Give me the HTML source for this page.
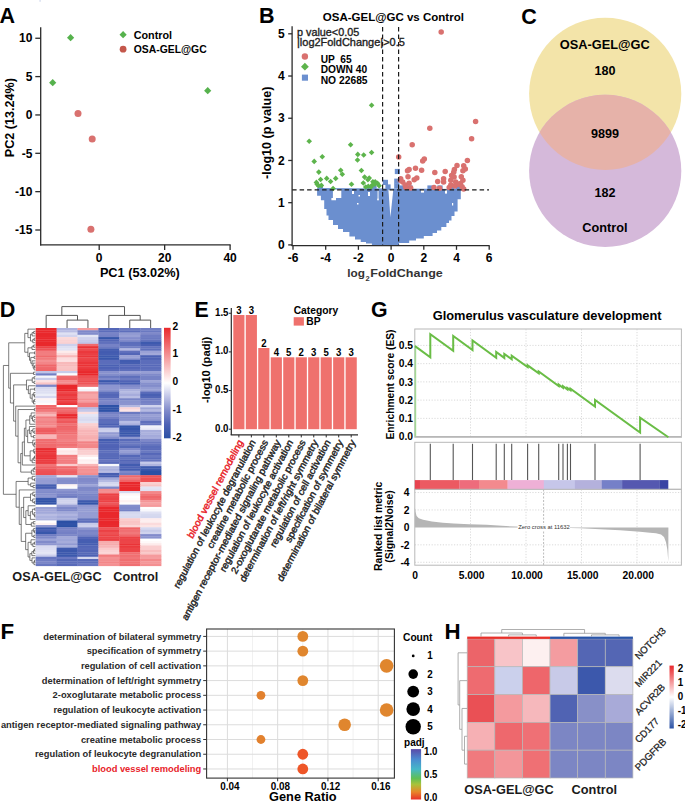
<!DOCTYPE html>
<html><head><meta charset="utf-8"><style>
html,body{margin:0;padding:0;background:#fff;width:685px;height:802px;overflow:hidden}
svg{display:block;font-family:"Liberation Sans", sans-serif}
</style></head><body>
<svg width="685" height="802" viewBox="0 0 685 802">
<rect width="685" height="802" fill="#fff"/>
<text x="-0.50" y="22.80" font-size="21.5" font-weight="bold" text-anchor="start" fill="#000">A</text>
<rect x="39.30" y="0.00" width="1.60" height="1.80" fill="#dde3f2"/>
<line x1="40.70" y1="27.20" x2="40.70" y2="245.40" stroke="#2b2b2b" stroke-width="1.3"/>
<line x1="40.05" y1="244.80" x2="230.60" y2="244.80" stroke="#2b2b2b" stroke-width="1.3"/>
<line x1="35.30" y1="38.25" x2="40.70" y2="38.25" stroke="#2b2b2b" stroke-width="1.3"/>
<text x="32.40" y="42.45" font-size="12" font-weight="bold" text-anchor="end" fill="#000">10</text>
<line x1="35.30" y1="76.60" x2="40.70" y2="76.60" stroke="#2b2b2b" stroke-width="1.3"/>
<text x="32.40" y="80.80" font-size="12" font-weight="bold" text-anchor="end" fill="#000">5</text>
<line x1="35.30" y1="114.95" x2="40.70" y2="114.95" stroke="#2b2b2b" stroke-width="1.3"/>
<text x="32.40" y="119.15" font-size="12" font-weight="bold" text-anchor="end" fill="#000">0</text>
<line x1="35.30" y1="153.30" x2="40.70" y2="153.30" stroke="#2b2b2b" stroke-width="1.3"/>
<text x="32.40" y="157.50" font-size="12" font-weight="bold" text-anchor="end" fill="#000">-5</text>
<line x1="35.30" y1="191.65" x2="40.70" y2="191.65" stroke="#2b2b2b" stroke-width="1.3"/>
<text x="32.40" y="195.85" font-size="12" font-weight="bold" text-anchor="end" fill="#000">-10</text>
<line x1="35.30" y1="230.00" x2="40.70" y2="230.00" stroke="#2b2b2b" stroke-width="1.3"/>
<text x="32.40" y="234.20" font-size="12" font-weight="bold" text-anchor="end" fill="#000">-15</text>
<line x1="99.20" y1="244.80" x2="99.20" y2="250.00" stroke="#2b2b2b" stroke-width="1.3"/>
<text x="99.20" y="261.90" font-size="12" font-weight="bold" text-anchor="middle" fill="#000">0</text>
<line x1="164.65" y1="244.80" x2="164.65" y2="250.00" stroke="#2b2b2b" stroke-width="1.3"/>
<text x="164.65" y="261.90" font-size="12" font-weight="bold" text-anchor="middle" fill="#000">20</text>
<line x1="230.10" y1="244.80" x2="230.10" y2="250.00" stroke="#2b2b2b" stroke-width="1.3"/>
<text x="230.10" y="261.90" font-size="12" font-weight="bold" text-anchor="middle" fill="#000">40</text>
<text x="139.85" y="277.20" font-size="12.6" font-weight="bold" text-anchor="middle" fill="#000" textLength="79.90" lengthAdjust="spacingAndGlyphs">PC1 (53.02%)</text>
<text x="13.70" y="117.70" font-size="12.6" font-weight="bold" text-anchor="middle" fill="#000" transform="rotate(-90 13.70 117.70)" textLength="79.10" lengthAdjust="spacingAndGlyphs">PC2 (13.24%)</text>
<path d="M70.60 34.10L74.20 37.70L70.60 41.30L67.00 37.70Z" fill="#56b24d"/>
<path d="M52.70 79.10L56.30 82.70L52.70 86.30L49.10 82.70Z" fill="#56b24d"/>
<path d="M207.70 87.10L211.30 90.70L207.70 94.30L204.10 90.70Z" fill="#56b24d"/>
<circle cx="78.00" cy="113.50" r="3.50" fill="#d9716f"/>
<circle cx="92.20" cy="138.90" r="3.50" fill="#d9716f"/>
<circle cx="90.90" cy="229.20" r="3.50" fill="#d9716f"/>
<path d="M123.10 31.10L126.70 34.70L123.10 38.30L119.50 34.70Z" fill="#56b24d"/>
<circle cx="123.10" cy="49.20" r="3.40" fill="#c4574b"/>
<text x="133.70" y="38.80" font-size="10.8" font-weight="bold" text-anchor="start" fill="#000">Control</text>
<text x="133.70" y="52.70" font-size="10.8" font-weight="bold" text-anchor="start" fill="#000" textLength="73.00" lengthAdjust="spacingAndGlyphs">OSA-GEL@GC</text>
<text x="258.90" y="22.80" font-size="21.5" font-weight="bold" text-anchor="start" fill="#000">B</text>
<text x="322.80" y="21.30" font-size="11.5" font-weight="bold" text-anchor="start" fill="#000" textLength="141.10" lengthAdjust="spacingAndGlyphs">OSA-GEL@GC vs Control</text>
<path d="M317.1 188.0 L317.1 195.7 L320.9 195.7 L320.9 200.3 L324.2 200.3 L324.2 209.0 L326.5 209.0 L326.5 215.5 L328.5 215.5 L328.5 220.0 L333.0 220.0 L333.0 225.0 L338.0 225.0 L338.0 229.0 L343.0 229.0 L343.0 232.0 L349.4 232.0 L349.4 236.5 L355.0 236.5 L355.0 239.6 L360.7 239.6 L360.7 242.0 L366.0 242.0 L366.0 243.6 L371.9 243.6 L371.9 245.4 L399.0 245.4 L399.0 243.0 L409.2 243.0 L409.2 240.5 L416.0 240.5 L416.0 238.5 L423.8 238.5 L423.8 236.0 L432.6 236.0 L432.6 233.0 L437.0 233.0 L437.0 230.5 L441.3 230.5 L441.3 227.0 L446.4 227.0 L446.4 223.0 L449.0 223.0 L449.0 220.4 L451.5 220.4 L451.5 216.0 L454.5 216.0 L454.5 211.6 L457.6 211.6 L457.6 199.2 L460.8 199.2 L460.8 189.0 Z" fill="#6b8fcf" stroke="none" stroke-width="1"/>
<path d="M388.4 189.6 L393.3 189.6 L390.4 217.2 Z" fill="#fff" stroke="none" stroke-width="1"/>
<path d="M332.9 189.6 L341.3 189.6 L341.3 198 L336 198 L336 200.3 L331.4 200.3 L331.4 198 L332.9 198 Z" fill="#fff" stroke="none" stroke-width="1"/>
<rect x="377.60" y="190.50" width="0.90" height="8.50" fill="#fff"/>
<circle cx="378.00" cy="199.50" r="0.90" fill="#fff"/>
<rect x="352.00" y="191.00" width="2.00" height="3.00" fill="#fff"/>
<rect x="368.00" y="192.00" width="2.00" height="4.00" fill="#fff"/>
<rect x="421.00" y="189.60" width="3.00" height="3.00" fill="#fff"/>
<rect x="445.00" y="189.60" width="2.00" height="4.00" fill="#fff"/>
<rect x="357.00" y="203.00" width="1.50" height="1.50" fill="#fff"/>
<rect x="358.50" y="195.00" width="1.50" height="1.50" fill="#fff"/>
<rect x="452.00" y="203.00" width="1.20" height="2.50" fill="#fff"/>
<rect x="382.80" y="179.80" width="5.20" height="5.20" fill="#6b8fcf"/>
<rect x="394.20" y="178.60" width="5.20" height="5.20" fill="#6b8fcf"/>
<rect x="394.20" y="183.40" width="5.20" height="5.20" fill="#6b8fcf"/>
<rect x="394.80" y="168.90" width="5.20" height="5.20" fill="#6b8fcf"/>
<rect x="317.80" y="185.20" width="5.20" height="5.20" fill="#6b8fcf"/>
<rect x="365.40" y="185.40" width="5.20" height="5.20" fill="#6b8fcf"/>
<rect x="371.40" y="185.40" width="5.20" height="5.20" fill="#6b8fcf"/>
<rect x="385.40" y="184.40" width="5.20" height="5.20" fill="#6b8fcf"/>
<rect x="399.40" y="185.40" width="5.20" height="5.20" fill="#6b8fcf"/>
<rect x="407.40" y="185.40" width="5.20" height="5.20" fill="#6b8fcf"/>
<rect x="427.40" y="185.40" width="5.20" height="5.20" fill="#6b8fcf"/>
<rect x="437.40" y="185.40" width="5.20" height="5.20" fill="#6b8fcf"/>
<rect x="449.40" y="185.40" width="5.20" height="5.20" fill="#6b8fcf"/>
<rect x="455.40" y="185.40" width="5.20" height="5.20" fill="#6b8fcf"/>
<circle cx="441.20" cy="32.10" r="2.75" fill="#d9716f"/>
<circle cx="475.60" cy="121.50" r="2.75" fill="#d9716f"/>
<circle cx="429.80" cy="128.30" r="2.75" fill="#d9716f"/>
<circle cx="471.60" cy="138.80" r="2.75" fill="#d9716f"/>
<circle cx="412.20" cy="144.80" r="2.75" fill="#d9716f"/>
<circle cx="398.70" cy="157.00" r="2.75" fill="#d9716f"/>
<circle cx="424.30" cy="159.10" r="2.75" fill="#d9716f"/>
<circle cx="422.70" cy="161.00" r="2.75" fill="#d9716f"/>
<circle cx="467.40" cy="160.50" r="2.75" fill="#d9716f"/>
<circle cx="457.00" cy="165.50" r="2.75" fill="#d9716f"/>
<circle cx="463.70" cy="165.80" r="2.75" fill="#d9716f"/>
<circle cx="465.30" cy="169.00" r="2.75" fill="#d9716f"/>
<circle cx="462.90" cy="170.70" r="2.75" fill="#d9716f"/>
<circle cx="415.50" cy="168.30" r="2.75" fill="#d9716f"/>
<circle cx="409.10" cy="169.40" r="2.75" fill="#d9716f"/>
<circle cx="407.50" cy="170.70" r="2.75" fill="#d9716f"/>
<circle cx="421.60" cy="170.30" r="2.75" fill="#d9716f"/>
<circle cx="434.80" cy="172.60" r="2.75" fill="#d9716f"/>
<circle cx="445.20" cy="171.50" r="2.75" fill="#d9716f"/>
<circle cx="454.40" cy="169.40" r="2.75" fill="#d9716f"/>
<circle cx="453.70" cy="172.30" r="2.75" fill="#d9716f"/>
<circle cx="408.00" cy="176.80" r="2.75" fill="#d9716f"/>
<circle cx="416.80" cy="177.90" r="2.75" fill="#d9716f"/>
<circle cx="414.20" cy="179.80" r="2.75" fill="#d9716f"/>
<circle cx="400.70" cy="178.70" r="2.75" fill="#d9716f"/>
<circle cx="402.70" cy="181.90" r="2.75" fill="#d9716f"/>
<circle cx="409.10" cy="183.20" r="2.75" fill="#d9716f"/>
<circle cx="405.10" cy="185.10" r="2.75" fill="#d9716f"/>
<circle cx="437.70" cy="181.60" r="2.75" fill="#d9716f"/>
<circle cx="443.60" cy="178.70" r="2.75" fill="#d9716f"/>
<circle cx="443.60" cy="181.90" r="2.75" fill="#d9716f"/>
<circle cx="451.60" cy="175.50" r="2.75" fill="#d9716f"/>
<circle cx="454.10" cy="177.10" r="2.75" fill="#d9716f"/>
<circle cx="450.80" cy="180.30" r="2.75" fill="#d9716f"/>
<circle cx="455.70" cy="181.90" r="2.75" fill="#d9716f"/>
<circle cx="461.30" cy="176.80" r="2.75" fill="#d9716f"/>
<circle cx="462.90" cy="180.30" r="2.75" fill="#d9716f"/>
<circle cx="460.50" cy="183.50" r="2.75" fill="#d9716f"/>
<circle cx="462.10" cy="186.70" r="2.75" fill="#d9716f"/>
<circle cx="463.70" cy="189.10" r="2.75" fill="#d9716f"/>
<circle cx="450.80" cy="185.10" r="2.75" fill="#d9716f"/>
<circle cx="454.90" cy="185.90" r="2.75" fill="#d9716f"/>
<circle cx="458.10" cy="184.30" r="2.75" fill="#d9716f"/>
<circle cx="449.20" cy="187.50" r="2.75" fill="#d9716f"/>
<circle cx="434.00" cy="187.50" r="2.75" fill="#d9716f"/>
<circle cx="439.60" cy="188.30" r="2.75" fill="#d9716f"/>
<circle cx="410.70" cy="188.00" r="2.75" fill="#d9716f"/>
<circle cx="405.90" cy="187.50" r="2.75" fill="#d9716f"/>
<circle cx="400.30" cy="180.30" r="2.75" fill="#d9716f"/>
<path d="M371.60 102.40L374.40 105.20L371.60 108.00L368.80 105.20Z" fill="#5db44c"/>
<path d="M309.20 138.40L312.00 141.20L309.20 144.00L306.40 141.20Z" fill="#5db44c"/>
<path d="M350.60 141.90L353.40 144.70L350.60 147.50L347.80 144.70Z" fill="#5db44c"/>
<path d="M371.60 149.70L374.40 152.50L371.60 155.30L368.80 152.50Z" fill="#5db44c"/>
<path d="M357.80 151.60L360.60 154.40L357.80 157.20L355.00 154.40Z" fill="#5db44c"/>
<path d="M363.70 152.20L366.50 155.00L363.70 157.80L360.90 155.00Z" fill="#5db44c"/>
<path d="M322.30 154.00L325.10 156.80L322.30 159.60L319.50 156.80Z" fill="#5db44c"/>
<path d="M314.20 158.60L317.00 161.40L314.20 164.20L311.40 161.40Z" fill="#5db44c"/>
<path d="M357.50 157.20L360.30 160.00L357.50 162.80L354.70 160.00Z" fill="#5db44c"/>
<path d="M318.80 169.30L321.60 172.10L318.80 174.90L316.00 172.10Z" fill="#5db44c"/>
<path d="M340.70 167.50L343.50 170.30L340.70 173.10L337.90 170.30Z" fill="#5db44c"/>
<path d="M342.30 171.40L345.10 174.20L342.30 177.00L339.50 174.20Z" fill="#5db44c"/>
<path d="M361.40 167.70L364.20 170.50L361.40 173.30L358.60 170.50Z" fill="#5db44c"/>
<path d="M320.60 176.70L323.40 179.50L320.60 182.30L317.80 179.50Z" fill="#5db44c"/>
<path d="M326.70 175.60L329.50 178.40L326.70 181.20L323.90 178.40Z" fill="#5db44c"/>
<path d="M330.60 178.70L333.40 181.50L330.60 184.30L327.80 181.50Z" fill="#5db44c"/>
<path d="M335.70 175.60L338.50 178.40L335.70 181.20L332.90 178.40Z" fill="#5db44c"/>
<path d="M316.40 179.60L319.20 182.40L316.40 185.20L313.60 182.40Z" fill="#5db44c"/>
<path d="M318.40 182.90L321.20 185.70L318.40 188.50L315.60 185.70Z" fill="#5db44c"/>
<path d="M321.40 182.60L324.20 185.40L321.40 188.20L318.60 185.40Z" fill="#5db44c"/>
<path d="M317.10 181.50L319.90 184.30L317.10 187.10L314.30 184.30Z" fill="#5db44c"/>
<path d="M333.10 185.70L335.90 188.50L333.10 191.30L330.30 188.50Z" fill="#5db44c"/>
<path d="M351.50 181.50L354.30 184.30L351.50 187.10L348.70 184.30Z" fill="#5db44c"/>
<path d="M364.60 174.30L367.40 177.10L364.60 179.90L361.80 177.10Z" fill="#5db44c"/>
<path d="M369.20 175.20L372.00 178.00L369.20 180.80L366.40 178.00Z" fill="#5db44c"/>
<path d="M367.90 176.90L370.70 179.70L367.90 182.50L365.10 179.70Z" fill="#5db44c"/>
<path d="M363.30 180.20L366.10 183.00L363.30 185.80L360.50 183.00Z" fill="#5db44c"/>
<path d="M372.90 178.90L375.70 181.70L372.90 184.50L370.10 181.70Z" fill="#5db44c"/>
<path d="M375.20 178.90L378.00 181.70L375.20 184.50L372.40 181.70Z" fill="#5db44c"/>
<path d="M377.50 180.50L380.30 183.30L377.50 186.10L374.70 183.30Z" fill="#5db44c"/>
<path d="M379.10 182.90L381.90 185.70L379.10 188.50L376.30 185.70Z" fill="#5db44c"/>
<path d="M372.30 182.20L375.10 185.00L372.30 187.80L369.50 185.00Z" fill="#5db44c"/>
<path d="M368.30 183.50L371.10 186.30L368.30 189.10L365.50 186.30Z" fill="#5db44c"/>
<path d="M365.70 184.20L368.50 187.00L365.70 189.80L362.90 187.00Z" fill="#5db44c"/>
<path d="M371.00 184.20L373.80 187.00L371.00 189.80L368.20 187.00Z" fill="#5db44c"/>
<path d="M374.90 181.50L377.70 184.30L374.90 187.10L372.10 184.30Z" fill="#5db44c"/>
<line x1="382.60" y1="27.00" x2="382.60" y2="245.00" stroke="#1a1a1a" stroke-width="1.2" stroke-dasharray="4.5 3"/>
<line x1="398.60" y1="27.00" x2="398.60" y2="245.00" stroke="#1a1a1a" stroke-width="1.2" stroke-dasharray="4.5 3"/>
<line x1="292.10" y1="189.90" x2="489.00" y2="189.90" stroke="#1a1a1a" stroke-width="1.2" stroke-dasharray="4.5 3"/>
<line x1="292.10" y1="26.30" x2="292.10" y2="246.00" stroke="#2b2b2b" stroke-width="1.3"/>
<line x1="291.50" y1="245.60" x2="489.60" y2="245.60" stroke="#2b2b2b" stroke-width="1.3"/>
<line x1="288.20" y1="244.90" x2="292.10" y2="244.90" stroke="#2b2b2b" stroke-width="1.3"/>
<text x="284.60" y="249.10" font-size="12" font-weight="bold" text-anchor="end" fill="#000">0</text>
<line x1="288.20" y1="202.68" x2="292.10" y2="202.68" stroke="#2b2b2b" stroke-width="1.3"/>
<text x="284.60" y="206.88" font-size="12" font-weight="bold" text-anchor="end" fill="#000">1</text>
<line x1="288.20" y1="160.46" x2="292.10" y2="160.46" stroke="#2b2b2b" stroke-width="1.3"/>
<text x="284.60" y="164.66" font-size="12" font-weight="bold" text-anchor="end" fill="#000">2</text>
<line x1="288.20" y1="118.24" x2="292.10" y2="118.24" stroke="#2b2b2b" stroke-width="1.3"/>
<text x="284.60" y="122.44" font-size="12" font-weight="bold" text-anchor="end" fill="#000">3</text>
<line x1="288.20" y1="76.02" x2="292.10" y2="76.02" stroke="#2b2b2b" stroke-width="1.3"/>
<text x="284.60" y="80.22" font-size="12" font-weight="bold" text-anchor="end" fill="#000">4</text>
<line x1="288.20" y1="33.80" x2="292.10" y2="33.80" stroke="#2b2b2b" stroke-width="1.3"/>
<text x="284.60" y="38.00" font-size="12" font-weight="bold" text-anchor="end" fill="#000">5</text>
<line x1="293.00" y1="245.60" x2="293.00" y2="249.80" stroke="#2b2b2b" stroke-width="1.3"/>
<text x="293.00" y="262.30" font-size="12" font-weight="bold" text-anchor="middle" fill="#000">-6</text>
<line x1="325.70" y1="245.60" x2="325.70" y2="249.80" stroke="#2b2b2b" stroke-width="1.3"/>
<text x="325.70" y="262.30" font-size="12" font-weight="bold" text-anchor="middle" fill="#000">-4</text>
<line x1="358.40" y1="245.60" x2="358.40" y2="249.80" stroke="#2b2b2b" stroke-width="1.3"/>
<text x="358.40" y="262.30" font-size="12" font-weight="bold" text-anchor="middle" fill="#000">-2</text>
<line x1="391.10" y1="245.60" x2="391.10" y2="249.80" stroke="#2b2b2b" stroke-width="1.3"/>
<text x="391.10" y="262.30" font-size="12" font-weight="bold" text-anchor="middle" fill="#000">0</text>
<line x1="423.80" y1="245.60" x2="423.80" y2="249.80" stroke="#2b2b2b" stroke-width="1.3"/>
<text x="423.80" y="262.30" font-size="12" font-weight="bold" text-anchor="middle" fill="#000">2</text>
<line x1="456.50" y1="245.60" x2="456.50" y2="249.80" stroke="#2b2b2b" stroke-width="1.3"/>
<text x="456.50" y="262.30" font-size="12" font-weight="bold" text-anchor="middle" fill="#000">4</text>
<line x1="489.20" y1="245.60" x2="489.20" y2="249.80" stroke="#2b2b2b" stroke-width="1.3"/>
<text x="489.20" y="262.30" font-size="12" font-weight="bold" text-anchor="middle" fill="#000">6</text>
<text x="271.20" y="132.80" font-size="12.6" font-weight="bold" text-anchor="middle" fill="#000" transform="rotate(-90 271.20 132.80)" textLength="92.40" lengthAdjust="spacingAndGlyphs">-log10 (p value)</text>
<text x="347.20" y="277.00" font-size="11.8" font-weight="bold" text-anchor="start" fill="#333">log</text>
<text x="365.40" y="280.60" font-size="7.5" font-weight="bold" text-anchor="start" fill="#333">2</text>
<text x="370.30" y="277.00" font-size="11.8" font-weight="bold" text-anchor="start" fill="#333" textLength="72.50" lengthAdjust="spacingAndGlyphs">FoldChange</text>
<text x="297.00" y="35.50" font-size="10.8" text-anchor="start" fill="#222" textLength="62.20" lengthAdjust="spacingAndGlyphs" stroke="#222" stroke-width="0.35">p value&lt;0.05</text>
<text x="297.00" y="45.70" font-size="10.8" text-anchor="start" fill="#222" textLength="107.80" lengthAdjust="spacingAndGlyphs" stroke="#222" stroke-width="0.35">|log2FoldChange|&gt;0.5</text>
<circle cx="304.90" cy="56.50" r="3.20" fill="#d9716f"/>
<path d="M304.90 62.80L308.80 66.70L304.90 70.60L301.00 66.70Z" fill="#5db44c"/>
<rect x="301.90" y="74.60" width="6.10" height="6.10" fill="#6b8fcf"/>
<text x="320.70" y="62.90" font-size="10.2" font-weight="bold" text-anchor="start" fill="#000" textLength="31.00" lengthAdjust="spacingAndGlyphs" style="white-space:pre">UP  65</text>
<text x="320.70" y="73.30" font-size="10.2" font-weight="bold" text-anchor="start" fill="#000" textLength="46.40" lengthAdjust="spacingAndGlyphs">DOWN 40</text>
<text x="320.70" y="83.70" font-size="10.2" font-weight="bold" text-anchor="start" fill="#000" textLength="46.90" lengthAdjust="spacingAndGlyphs">NO 22685</text>
<text x="521.30" y="23.50" font-size="21.5" font-weight="bold" text-anchor="start" fill="#000">C</text>
<defs><clipPath id="cy"><circle cx="605.2" cy="93.8" r="76.1"/></clipPath></defs>
<circle cx="605.20" cy="93.80" r="76.10" fill="#f3e4a9"/>
<circle cx="605.20" cy="170.90" r="76.10" fill="#d5b9da"/>
<circle cx="605.2" cy="170.9" r="76.1" fill="#e6b2a9" clip-path="url(#cy)"/>
<text x="604.80" y="49.30" font-size="12.8" font-weight="bold" text-anchor="middle" fill="#000" textLength="90.00" lengthAdjust="spacingAndGlyphs">OSA-GEL@GC</text>
<text x="605.10" y="75.40" font-size="12.6" font-weight="bold" text-anchor="middle" fill="#000">180</text>
<text x="605.10" y="137.90" font-size="12.6" font-weight="bold" text-anchor="middle" fill="#000">9899</text>
<text x="605.10" y="196.60" font-size="12.6" font-weight="bold" text-anchor="middle" fill="#000">182</text>
<text x="604.90" y="231.60" font-size="12.8" font-weight="bold" text-anchor="middle" fill="#000" textLength="45.20" lengthAdjust="spacingAndGlyphs">Control</text>
<text x="-0.30" y="317.20" font-size="21.5" font-weight="bold" text-anchor="start" fill="#000">D</text>
<rect x="35.70" y="328.00" width="21.20" height="2.56" fill="#e9282c"/>
<rect x="56.60" y="328.00" width="21.20" height="2.56" fill="#aeb3df"/>
<rect x="77.50" y="328.00" width="21.20" height="2.56" fill="#f59b9d"/>
<rect x="98.40" y="328.00" width="21.20" height="2.56" fill="#5366b7"/>
<rect x="119.30" y="328.00" width="21.20" height="2.56" fill="#6a78c1"/>
<rect x="140.20" y="328.00" width="21.20" height="2.56" fill="#717ec4"/>
<rect x="35.70" y="330.26" width="21.20" height="2.56" fill="#e9282c"/>
<rect x="56.60" y="330.26" width="21.20" height="2.56" fill="#b9bde4"/>
<rect x="77.50" y="330.26" width="21.20" height="2.56" fill="#7f89ca"/>
<rect x="98.40" y="330.26" width="21.20" height="2.56" fill="#5c6dbb"/>
<rect x="119.30" y="330.26" width="21.20" height="2.56" fill="#5e6fbc"/>
<rect x="140.20" y="330.26" width="21.20" height="2.56" fill="#6a79c1"/>
<rect x="35.70" y="332.53" width="21.20" height="2.56" fill="#e9282c"/>
<rect x="56.60" y="332.53" width="21.20" height="2.56" fill="#dfe1f3"/>
<rect x="77.50" y="332.53" width="21.20" height="2.56" fill="#828ccb"/>
<rect x="98.40" y="332.53" width="21.20" height="2.56" fill="#7984c7"/>
<rect x="119.30" y="332.53" width="21.20" height="2.56" fill="#919ad2"/>
<rect x="140.20" y="332.53" width="21.20" height="2.56" fill="#7f89c9"/>
<rect x="35.70" y="334.79" width="21.20" height="2.56" fill="#e9282c"/>
<rect x="56.60" y="334.79" width="21.20" height="2.56" fill="#d2d4ee"/>
<rect x="77.50" y="334.79" width="21.20" height="2.56" fill="#e3e5f4"/>
<rect x="98.40" y="334.79" width="21.20" height="2.56" fill="#7481c5"/>
<rect x="119.30" y="334.79" width="21.20" height="2.56" fill="#98a0d5"/>
<rect x="140.20" y="334.79" width="21.20" height="2.56" fill="#6f7cc3"/>
<rect x="35.70" y="337.06" width="21.20" height="2.56" fill="#e9282c"/>
<rect x="56.60" y="337.06" width="21.20" height="2.56" fill="#fbd9d9"/>
<rect x="77.50" y="337.06" width="21.20" height="2.56" fill="#cfd2ed"/>
<rect x="98.40" y="337.06" width="21.20" height="2.56" fill="#3656aa"/>
<rect x="119.30" y="337.06" width="21.20" height="2.56" fill="#848dcc"/>
<rect x="140.20" y="337.06" width="21.20" height="2.56" fill="#6b79c1"/>
<rect x="35.70" y="339.32" width="21.20" height="2.56" fill="#e9282c"/>
<rect x="56.60" y="339.32" width="21.20" height="2.56" fill="#fad2d3"/>
<rect x="77.50" y="339.32" width="21.20" height="2.56" fill="#c8cbea"/>
<rect x="98.40" y="339.32" width="21.20" height="2.56" fill="#5366b7"/>
<rect x="119.30" y="339.32" width="21.20" height="2.56" fill="#808aca"/>
<rect x="140.20" y="339.32" width="21.20" height="2.56" fill="#6272bd"/>
<rect x="35.70" y="341.59" width="21.20" height="2.56" fill="#e9282c"/>
<rect x="56.60" y="341.59" width="21.20" height="2.56" fill="#fad1d2"/>
<rect x="77.50" y="341.59" width="21.20" height="2.56" fill="#c1c5e7"/>
<rect x="98.40" y="341.59" width="21.20" height="2.56" fill="#6070bc"/>
<rect x="119.30" y="341.59" width="21.20" height="2.56" fill="#5c6ebb"/>
<rect x="140.20" y="341.59" width="21.20" height="2.56" fill="#3e5aae"/>
<rect x="35.70" y="343.85" width="21.20" height="2.56" fill="#e9282c"/>
<rect x="56.60" y="343.85" width="21.20" height="2.56" fill="#cdd0ec"/>
<rect x="77.50" y="343.85" width="21.20" height="2.56" fill="#f0696c"/>
<rect x="98.40" y="343.85" width="21.20" height="2.56" fill="#7682c6"/>
<rect x="119.30" y="343.85" width="21.20" height="2.56" fill="#5e6fbc"/>
<rect x="140.20" y="343.85" width="21.20" height="2.56" fill="#485fb2"/>
<rect x="35.70" y="346.12" width="21.20" height="2.56" fill="#ec4448"/>
<rect x="56.60" y="346.12" width="21.20" height="2.56" fill="#dcdff2"/>
<rect x="77.50" y="346.12" width="21.20" height="2.56" fill="#ea3236"/>
<rect x="98.40" y="346.12" width="21.20" height="2.56" fill="#6b79c1"/>
<rect x="119.30" y="346.12" width="21.20" height="2.56" fill="#727fc4"/>
<rect x="140.20" y="346.12" width="21.20" height="2.56" fill="#6473be"/>
<rect x="35.70" y="348.38" width="21.20" height="2.56" fill="#ed5357"/>
<rect x="56.60" y="348.38" width="21.20" height="2.56" fill="#e2e4f4"/>
<rect x="77.50" y="348.38" width="21.20" height="2.56" fill="#ed4a4e"/>
<rect x="98.40" y="348.38" width="21.20" height="2.56" fill="#445db1"/>
<rect x="119.30" y="348.38" width="21.20" height="2.56" fill="#b2b7e1"/>
<rect x="140.20" y="348.38" width="21.20" height="2.56" fill="#5f70bc"/>
<rect x="35.70" y="350.65" width="21.20" height="2.56" fill="#f27d7f"/>
<rect x="56.60" y="350.65" width="21.20" height="2.56" fill="#fdecec"/>
<rect x="77.50" y="350.65" width="21.20" height="2.56" fill="#eb393d"/>
<rect x="98.40" y="350.65" width="21.20" height="2.56" fill="#435cb0"/>
<rect x="119.30" y="350.65" width="21.20" height="2.56" fill="#6070bc"/>
<rect x="140.20" y="350.65" width="21.20" height="2.56" fill="#9aa2d6"/>
<rect x="35.70" y="352.91" width="21.20" height="2.56" fill="#f27e80"/>
<rect x="56.60" y="352.91" width="21.20" height="2.56" fill="#fbdbdc"/>
<rect x="77.50" y="352.91" width="21.20" height="2.56" fill="#eb3f43"/>
<rect x="98.40" y="352.91" width="21.20" height="2.56" fill="#445db1"/>
<rect x="119.30" y="352.91" width="21.20" height="2.56" fill="#5366b7"/>
<rect x="140.20" y="352.91" width="21.20" height="2.56" fill="#a2a9d9"/>
<rect x="35.70" y="355.18" width="21.20" height="2.56" fill="#f06b6d"/>
<rect x="56.60" y="355.18" width="21.20" height="2.56" fill="#f8b6b7"/>
<rect x="77.50" y="355.18" width="21.20" height="2.56" fill="#ea363a"/>
<rect x="98.40" y="355.18" width="21.20" height="2.56" fill="#3d5aae"/>
<rect x="119.30" y="355.18" width="21.20" height="2.56" fill="#98a0d5"/>
<rect x="140.20" y="355.18" width="21.20" height="2.56" fill="#4c61b4"/>
<rect x="35.70" y="357.44" width="21.20" height="2.56" fill="#f17b7d"/>
<rect x="56.60" y="357.44" width="21.20" height="2.56" fill="#fbdcdd"/>
<rect x="77.50" y="357.44" width="21.20" height="2.56" fill="#ec474a"/>
<rect x="98.40" y="357.44" width="21.20" height="2.56" fill="#3a58ac"/>
<rect x="119.30" y="357.44" width="21.20" height="2.56" fill="#8e97d0"/>
<rect x="140.20" y="357.44" width="21.20" height="2.56" fill="#4e62b5"/>
<rect x="35.70" y="359.71" width="21.20" height="2.56" fill="#f49092"/>
<rect x="56.60" y="359.71" width="21.20" height="2.56" fill="#fce1e2"/>
<rect x="77.50" y="359.71" width="21.20" height="2.56" fill="#ec4145"/>
<rect x="98.40" y="359.71" width="21.20" height="2.56" fill="#5b6dbb"/>
<rect x="119.30" y="359.71" width="21.20" height="2.56" fill="#425cb0"/>
<rect x="140.20" y="359.71" width="21.20" height="2.56" fill="#5c6ebb"/>
<rect x="35.70" y="361.97" width="21.20" height="2.56" fill="#f38588"/>
<rect x="56.60" y="361.97" width="21.20" height="2.56" fill="#f8b9ba"/>
<rect x="77.50" y="361.97" width="21.20" height="2.56" fill="#ea363a"/>
<rect x="98.40" y="361.97" width="21.20" height="2.56" fill="#5b6dbb"/>
<rect x="119.30" y="361.97" width="21.20" height="2.56" fill="#455eb1"/>
<rect x="140.20" y="361.97" width="21.20" height="2.56" fill="#5c6dbb"/>
<rect x="35.70" y="364.24" width="21.20" height="2.56" fill="#ef6669"/>
<rect x="56.60" y="364.24" width="21.20" height="2.56" fill="#f8b9ba"/>
<rect x="77.50" y="364.24" width="21.20" height="2.56" fill="#ea3336"/>
<rect x="98.40" y="364.24" width="21.20" height="2.56" fill="#4b61b4"/>
<rect x="119.30" y="364.24" width="21.20" height="2.56" fill="#5668b8"/>
<rect x="140.20" y="364.24" width="21.20" height="2.56" fill="#5769b9"/>
<rect x="35.70" y="366.50" width="21.20" height="2.56" fill="#f0696c"/>
<rect x="56.60" y="366.50" width="21.20" height="2.56" fill="#f9c3c4"/>
<rect x="77.50" y="366.50" width="21.20" height="2.56" fill="#eb3c40"/>
<rect x="98.40" y="366.50" width="21.20" height="2.56" fill="#4d62b5"/>
<rect x="119.30" y="366.50" width="21.20" height="2.56" fill="#5265b7"/>
<rect x="140.20" y="366.50" width="21.20" height="2.56" fill="#5c6dbb"/>
<rect x="35.70" y="368.77" width="21.20" height="2.56" fill="#ef6669"/>
<rect x="56.60" y="368.77" width="21.20" height="2.56" fill="#f9c1c2"/>
<rect x="77.50" y="368.77" width="21.20" height="2.56" fill="#ea3336"/>
<rect x="98.40" y="368.77" width="21.20" height="2.56" fill="#5769b9"/>
<rect x="119.30" y="368.77" width="21.20" height="2.56" fill="#5e6fbc"/>
<rect x="140.20" y="368.77" width="21.20" height="2.56" fill="#6071bd"/>
<rect x="35.70" y="371.03" width="21.20" height="2.56" fill="#bec2e6"/>
<rect x="56.60" y="371.03" width="21.20" height="2.56" fill="#c7cbea"/>
<rect x="77.50" y="371.03" width="21.20" height="2.56" fill="#e9282c"/>
<rect x="98.40" y="371.03" width="21.20" height="2.56" fill="#8891cd"/>
<rect x="119.30" y="371.03" width="21.20" height="2.56" fill="#99a0d5"/>
<rect x="140.20" y="371.03" width="21.20" height="2.56" fill="#969ed4"/>
<rect x="35.70" y="373.30" width="21.20" height="2.56" fill="#717ec4"/>
<rect x="56.60" y="373.30" width="21.20" height="2.56" fill="#fcfcfe"/>
<rect x="77.50" y="373.30" width="21.20" height="2.56" fill="#e9282c"/>
<rect x="98.40" y="373.30" width="21.20" height="2.56" fill="#838dcb"/>
<rect x="119.30" y="373.30" width="21.20" height="2.56" fill="#808aca"/>
<rect x="140.20" y="373.30" width="21.20" height="2.56" fill="#808aca"/>
<rect x="35.70" y="375.56" width="21.20" height="2.56" fill="#f6f7fc"/>
<rect x="56.60" y="375.56" width="21.20" height="2.56" fill="#f06b6e"/>
<rect x="77.50" y="375.56" width="21.20" height="2.56" fill="#ed4f52"/>
<rect x="98.40" y="375.56" width="21.20" height="2.56" fill="#6978c0"/>
<rect x="119.30" y="375.56" width="21.20" height="2.56" fill="#5d6ebb"/>
<rect x="140.20" y="375.56" width="21.20" height="2.56" fill="#7783c6"/>
<rect x="35.70" y="377.82" width="21.20" height="2.56" fill="#c9ccea"/>
<rect x="56.60" y="377.82" width="21.20" height="2.56" fill="#ef6669"/>
<rect x="77.50" y="377.82" width="21.20" height="2.56" fill="#ee575a"/>
<rect x="98.40" y="377.82" width="21.20" height="2.56" fill="#7d88c9"/>
<rect x="119.30" y="377.82" width="21.20" height="2.56" fill="#6c7ac1"/>
<rect x="140.20" y="377.82" width="21.20" height="2.56" fill="#7783c6"/>
<rect x="35.70" y="380.09" width="21.20" height="2.56" fill="#fce1e2"/>
<rect x="56.60" y="380.09" width="21.20" height="2.56" fill="#f38b8d"/>
<rect x="77.50" y="380.09" width="21.20" height="2.56" fill="#ed4e51"/>
<rect x="98.40" y="380.09" width="21.20" height="2.56" fill="#3b58ac"/>
<rect x="119.30" y="380.09" width="21.20" height="2.56" fill="#5063b6"/>
<rect x="140.20" y="380.09" width="21.20" height="2.56" fill="#9ca4d7"/>
<rect x="35.70" y="382.35" width="21.20" height="2.56" fill="#f9c4c5"/>
<rect x="56.60" y="382.35" width="21.20" height="2.56" fill="#f38789"/>
<rect x="77.50" y="382.35" width="21.20" height="2.56" fill="#ee5558"/>
<rect x="98.40" y="382.35" width="21.20" height="2.56" fill="#5467b8"/>
<rect x="119.30" y="382.35" width="21.20" height="2.56" fill="#465eb2"/>
<rect x="140.20" y="382.35" width="21.20" height="2.56" fill="#8690cd"/>
<rect x="35.70" y="384.62" width="21.20" height="2.56" fill="#7c87c8"/>
<rect x="56.60" y="384.62" width="21.20" height="2.56" fill="#e9282c"/>
<rect x="77.50" y="384.62" width="21.20" height="2.56" fill="#f06f71"/>
<rect x="98.40" y="384.62" width="21.20" height="2.56" fill="#8d96d0"/>
<rect x="119.30" y="384.62" width="21.20" height="2.56" fill="#808aca"/>
<rect x="140.20" y="384.62" width="21.20" height="2.56" fill="#828ccb"/>
<rect x="35.70" y="386.88" width="21.20" height="2.56" fill="#d6d9ef"/>
<rect x="56.60" y="386.88" width="21.20" height="2.56" fill="#e9282c"/>
<rect x="77.50" y="386.88" width="21.20" height="2.56" fill="#fffefe"/>
<rect x="98.40" y="386.88" width="21.20" height="2.56" fill="#8e96d0"/>
<rect x="119.30" y="386.88" width="21.20" height="2.56" fill="#8a93cf"/>
<rect x="140.20" y="386.88" width="21.20" height="2.56" fill="#939cd3"/>
<rect x="35.70" y="389.15" width="21.20" height="2.56" fill="#dcdef1"/>
<rect x="56.60" y="389.15" width="21.20" height="2.56" fill="#e9282c"/>
<rect x="77.50" y="389.15" width="21.20" height="2.56" fill="#f5f6fb"/>
<rect x="98.40" y="389.15" width="21.20" height="2.56" fill="#8791cd"/>
<rect x="119.30" y="389.15" width="21.20" height="2.56" fill="#abb1dd"/>
<rect x="140.20" y="389.15" width="21.20" height="2.56" fill="#969ed4"/>
<rect x="35.70" y="391.41" width="21.20" height="2.56" fill="#dee0f2"/>
<rect x="56.60" y="391.41" width="21.20" height="2.56" fill="#ec4649"/>
<rect x="77.50" y="391.41" width="21.20" height="2.56" fill="#f49799"/>
<rect x="98.40" y="391.41" width="21.20" height="2.56" fill="#5e6fbc"/>
<rect x="119.30" y="391.41" width="21.20" height="2.56" fill="#b5bae2"/>
<rect x="140.20" y="391.41" width="21.20" height="2.56" fill="#5a6bba"/>
<rect x="35.70" y="393.68" width="21.20" height="2.56" fill="#eceef8"/>
<rect x="56.60" y="393.68" width="21.20" height="2.56" fill="#eb383c"/>
<rect x="77.50" y="393.68" width="21.20" height="2.56" fill="#f6a6a7"/>
<rect x="98.40" y="393.68" width="21.20" height="2.56" fill="#5366b7"/>
<rect x="119.30" y="393.68" width="21.20" height="2.56" fill="#a6acdb"/>
<rect x="140.20" y="393.68" width="21.20" height="2.56" fill="#4960b3"/>
<rect x="35.70" y="395.94" width="21.20" height="2.56" fill="#d5d7ef"/>
<rect x="56.60" y="395.94" width="21.20" height="2.56" fill="#ec4448"/>
<rect x="77.50" y="395.94" width="21.20" height="2.56" fill="#f6a5a7"/>
<rect x="98.40" y="395.94" width="21.20" height="2.56" fill="#5769b9"/>
<rect x="119.30" y="395.94" width="21.20" height="2.56" fill="#b8bde3"/>
<rect x="140.20" y="395.94" width="21.20" height="2.56" fill="#5165b6"/>
<rect x="35.70" y="398.21" width="21.20" height="2.56" fill="#fef4f4"/>
<rect x="56.60" y="398.21" width="21.20" height="2.56" fill="#ea3236"/>
<rect x="77.50" y="398.21" width="21.20" height="2.56" fill="#f49395"/>
<rect x="98.40" y="398.21" width="21.20" height="2.56" fill="#717ec4"/>
<rect x="119.30" y="398.21" width="21.20" height="2.56" fill="#7884c7"/>
<rect x="140.20" y="398.21" width="21.20" height="2.56" fill="#6d7bc2"/>
<rect x="35.70" y="400.47" width="21.20" height="2.56" fill="#f6f6fc"/>
<rect x="56.60" y="400.47" width="21.20" height="2.56" fill="#ec4649"/>
<rect x="77.50" y="400.47" width="21.20" height="2.56" fill="#f59b9d"/>
<rect x="98.40" y="400.47" width="21.20" height="2.56" fill="#7e88c9"/>
<rect x="119.30" y="400.47" width="21.20" height="2.56" fill="#8993ce"/>
<rect x="140.20" y="400.47" width="21.20" height="2.56" fill="#7480c5"/>
<rect x="35.70" y="402.74" width="21.20" height="2.56" fill="#fffbfb"/>
<rect x="56.60" y="402.74" width="21.20" height="2.56" fill="#ea373a"/>
<rect x="77.50" y="402.74" width="21.20" height="2.56" fill="#f1797c"/>
<rect x="98.40" y="402.74" width="21.20" height="2.56" fill="#7883c7"/>
<rect x="119.30" y="402.74" width="21.20" height="2.56" fill="#8c94cf"/>
<rect x="140.20" y="402.74" width="21.20" height="2.56" fill="#7b86c8"/>
<rect x="35.70" y="405.00" width="21.20" height="2.56" fill="#f0686b"/>
<rect x="56.60" y="405.00" width="21.20" height="2.56" fill="#fefeff"/>
<rect x="77.50" y="405.00" width="21.20" height="2.56" fill="#f17779"/>
<rect x="98.40" y="405.00" width="21.20" height="2.56" fill="#2e52a7"/>
<rect x="119.30" y="405.00" width="21.20" height="2.56" fill="#b3b8e1"/>
<rect x="140.20" y="405.00" width="21.20" height="2.56" fill="#d0d3ed"/>
<rect x="35.70" y="407.27" width="21.20" height="2.56" fill="#ef6265"/>
<rect x="56.60" y="407.27" width="21.20" height="2.56" fill="#ef6568"/>
<rect x="77.50" y="407.27" width="21.20" height="2.56" fill="#b5bae2"/>
<rect x="98.40" y="407.27" width="21.20" height="2.56" fill="#3153a8"/>
<rect x="119.30" y="407.27" width="21.20" height="2.56" fill="#fbd5d6"/>
<rect x="140.20" y="407.27" width="21.20" height="2.56" fill="#a0a7d8"/>
<rect x="35.70" y="409.53" width="21.20" height="2.56" fill="#f1787b"/>
<rect x="56.60" y="409.53" width="21.20" height="2.56" fill="#f06b6e"/>
<rect x="77.50" y="409.53" width="21.20" height="2.56" fill="#c5c8e9"/>
<rect x="98.40" y="409.53" width="21.20" height="2.56" fill="#2e52a7"/>
<rect x="119.30" y="409.53" width="21.20" height="2.56" fill="#fce4e5"/>
<rect x="140.20" y="409.53" width="21.20" height="2.56" fill="#b4b9e2"/>
<rect x="35.70" y="411.80" width="21.20" height="2.56" fill="#f59ea0"/>
<rect x="56.60" y="411.80" width="21.20" height="2.56" fill="#ef5e61"/>
<rect x="77.50" y="411.80" width="21.20" height="2.56" fill="#fcdfdf"/>
<rect x="98.40" y="411.80" width="21.20" height="2.56" fill="#7581c5"/>
<rect x="119.30" y="411.80" width="21.20" height="2.56" fill="#6b79c1"/>
<rect x="140.20" y="411.80" width="21.20" height="2.56" fill="#7f89c9"/>
<rect x="35.70" y="414.06" width="21.20" height="2.56" fill="#f8b7b8"/>
<rect x="56.60" y="414.06" width="21.20" height="2.56" fill="#e9282c"/>
<rect x="77.50" y="414.06" width="21.20" height="2.56" fill="#e4e5f5"/>
<rect x="98.40" y="414.06" width="21.20" height="2.56" fill="#7e89c9"/>
<rect x="119.30" y="414.06" width="21.20" height="2.56" fill="#8b94cf"/>
<rect x="140.20" y="414.06" width="21.20" height="2.56" fill="#99a0d5"/>
<rect x="35.70" y="416.33" width="21.20" height="2.56" fill="#f27e81"/>
<rect x="56.60" y="416.33" width="21.20" height="2.56" fill="#ea2e32"/>
<rect x="77.50" y="416.33" width="21.20" height="2.56" fill="#dbdef1"/>
<rect x="98.40" y="416.33" width="21.20" height="2.56" fill="#6f7cc3"/>
<rect x="119.30" y="416.33" width="21.20" height="2.56" fill="#858fcc"/>
<rect x="140.20" y="416.33" width="21.20" height="2.56" fill="#9098d1"/>
<rect x="35.70" y="418.59" width="21.20" height="2.56" fill="#f38d8f"/>
<rect x="56.60" y="418.59" width="21.20" height="2.56" fill="#ef6567"/>
<rect x="77.50" y="418.59" width="21.20" height="2.56" fill="#d8daf0"/>
<rect x="98.40" y="418.59" width="21.20" height="2.56" fill="#5c6dbb"/>
<rect x="119.30" y="418.59" width="21.20" height="2.56" fill="#8992ce"/>
<rect x="140.20" y="418.59" width="21.20" height="2.56" fill="#8c95cf"/>
<rect x="35.70" y="420.86" width="21.20" height="2.56" fill="#f28487"/>
<rect x="56.60" y="420.86" width="21.20" height="2.56" fill="#ee585b"/>
<rect x="77.50" y="420.86" width="21.20" height="2.56" fill="#e0e2f3"/>
<rect x="98.40" y="420.86" width="21.20" height="2.56" fill="#5c6ebb"/>
<rect x="119.30" y="420.86" width="21.20" height="2.56" fill="#b8bde4"/>
<rect x="140.20" y="420.86" width="21.20" height="2.56" fill="#5e6fbc"/>
<rect x="35.70" y="423.12" width="21.20" height="2.56" fill="#f38688"/>
<rect x="56.60" y="423.12" width="21.20" height="2.56" fill="#f06f72"/>
<rect x="77.50" y="423.12" width="21.20" height="2.56" fill="#fad0d1"/>
<rect x="98.40" y="423.12" width="21.20" height="2.56" fill="#4c61b4"/>
<rect x="119.30" y="423.12" width="21.20" height="2.56" fill="#a9afdd"/>
<rect x="140.20" y="423.12" width="21.20" height="2.56" fill="#6574bf"/>
<rect x="35.70" y="425.38" width="21.20" height="2.56" fill="#f48f91"/>
<rect x="56.60" y="425.38" width="21.20" height="2.56" fill="#ef6366"/>
<rect x="77.50" y="425.38" width="21.20" height="2.56" fill="#f9c9ca"/>
<rect x="98.40" y="425.38" width="21.20" height="2.56" fill="#5467b7"/>
<rect x="119.30" y="425.38" width="21.20" height="2.56" fill="#3656aa"/>
<rect x="140.20" y="425.38" width="21.20" height="2.56" fill="#f1f2fa"/>
<rect x="35.70" y="427.65" width="21.20" height="2.56" fill="#ef6164"/>
<rect x="56.60" y="427.65" width="21.20" height="2.56" fill="#ef676a"/>
<rect x="77.50" y="427.65" width="21.20" height="2.56" fill="#f9c1c2"/>
<rect x="98.40" y="427.65" width="21.20" height="2.56" fill="#c8ccea"/>
<rect x="119.30" y="427.65" width="21.20" height="2.56" fill="#3555aa"/>
<rect x="140.20" y="427.65" width="21.20" height="2.56" fill="#eaebf7"/>
<rect x="35.70" y="429.91" width="21.20" height="2.56" fill="#ee5b5e"/>
<rect x="56.60" y="429.91" width="21.20" height="2.56" fill="#f06e71"/>
<rect x="77.50" y="429.91" width="21.20" height="2.56" fill="#f7b5b7"/>
<rect x="98.40" y="429.91" width="21.20" height="2.56" fill="#ced1ec"/>
<rect x="119.30" y="429.91" width="21.20" height="2.56" fill="#405baf"/>
<rect x="140.20" y="429.91" width="21.20" height="2.56" fill="#a8aedc"/>
<rect x="35.70" y="432.18" width="21.20" height="2.56" fill="#ef6063"/>
<rect x="56.60" y="432.18" width="21.20" height="2.56" fill="#f06e71"/>
<rect x="77.50" y="432.18" width="21.20" height="2.56" fill="#f8b6b8"/>
<rect x="98.40" y="432.18" width="21.20" height="2.56" fill="#939bd3"/>
<rect x="119.30" y="432.18" width="21.20" height="2.56" fill="#3857ab"/>
<rect x="140.20" y="432.18" width="21.20" height="2.56" fill="#abb1dd"/>
<rect x="35.70" y="434.44" width="21.20" height="2.56" fill="#f8b7b9"/>
<rect x="56.60" y="434.44" width="21.20" height="2.56" fill="#f27b7e"/>
<rect x="77.50" y="434.44" width="21.20" height="2.56" fill="#f7b2b3"/>
<rect x="98.40" y="434.44" width="21.20" height="2.56" fill="#99a1d5"/>
<rect x="119.30" y="434.44" width="21.20" height="2.56" fill="#415baf"/>
<rect x="140.20" y="434.44" width="21.20" height="2.56" fill="#a3a9da"/>
<rect x="35.70" y="436.71" width="21.20" height="2.56" fill="#f7b5b7"/>
<rect x="56.60" y="436.71" width="21.20" height="2.56" fill="#f27b7e"/>
<rect x="77.50" y="436.71" width="21.20" height="2.56" fill="#f7aeaf"/>
<rect x="98.40" y="436.71" width="21.20" height="2.56" fill="#828ccb"/>
<rect x="119.30" y="436.71" width="21.20" height="2.56" fill="#9099d1"/>
<rect x="140.20" y="436.71" width="21.20" height="2.56" fill="#a8aedc"/>
<rect x="35.70" y="438.97" width="21.20" height="2.56" fill="#f06e70"/>
<rect x="56.60" y="438.97" width="21.20" height="2.56" fill="#f28184"/>
<rect x="77.50" y="438.97" width="21.20" height="2.56" fill="#f8b6b7"/>
<rect x="98.40" y="438.97" width="21.20" height="2.56" fill="#445db1"/>
<rect x="119.30" y="438.97" width="21.20" height="2.56" fill="#596bba"/>
<rect x="140.20" y="438.97" width="21.20" height="2.56" fill="#7e88c9"/>
<rect x="35.70" y="441.24" width="21.20" height="2.56" fill="#f06b6e"/>
<rect x="56.60" y="441.24" width="21.20" height="2.56" fill="#f17578"/>
<rect x="77.50" y="441.24" width="21.20" height="2.56" fill="#f28285"/>
<rect x="98.40" y="441.24" width="21.20" height="2.56" fill="#4b60b4"/>
<rect x="119.30" y="441.24" width="21.20" height="2.56" fill="#6776bf"/>
<rect x="140.20" y="441.24" width="21.20" height="2.56" fill="#6977c0"/>
<rect x="35.70" y="443.50" width="21.20" height="2.56" fill="#f06a6c"/>
<rect x="56.60" y="443.50" width="21.20" height="2.56" fill="#f06f72"/>
<rect x="77.50" y="443.50" width="21.20" height="2.56" fill="#f3898b"/>
<rect x="98.40" y="443.50" width="21.20" height="2.56" fill="#5265b7"/>
<rect x="119.30" y="443.50" width="21.20" height="2.56" fill="#6978c0"/>
<rect x="140.20" y="443.50" width="21.20" height="2.56" fill="#6675bf"/>
<rect x="35.70" y="445.77" width="21.20" height="2.56" fill="#f06b6e"/>
<rect x="56.60" y="445.77" width="21.20" height="2.56" fill="#f27c7f"/>
<rect x="77.50" y="445.77" width="21.20" height="2.56" fill="#f38688"/>
<rect x="98.40" y="445.77" width="21.20" height="2.56" fill="#4f62b5"/>
<rect x="119.30" y="445.77" width="21.20" height="2.56" fill="#5669b8"/>
<rect x="140.20" y="445.77" width="21.20" height="2.56" fill="#596bba"/>
<rect x="35.70" y="448.03" width="21.20" height="2.56" fill="#e92d31"/>
<rect x="56.60" y="448.03" width="21.20" height="2.56" fill="#fef3f4"/>
<rect x="77.50" y="448.03" width="21.20" height="2.56" fill="#f9c1c3"/>
<rect x="98.40" y="448.03" width="21.20" height="2.56" fill="#5164b6"/>
<rect x="119.30" y="448.03" width="21.20" height="2.56" fill="#7f89ca"/>
<rect x="140.20" y="448.03" width="21.20" height="2.56" fill="#5a6bba"/>
<rect x="35.70" y="450.30" width="21.20" height="2.56" fill="#ea2f33"/>
<rect x="56.60" y="450.30" width="21.20" height="2.56" fill="#fde7e7"/>
<rect x="77.50" y="450.30" width="21.20" height="2.56" fill="#facecf"/>
<rect x="98.40" y="450.30" width="21.20" height="2.56" fill="#5e6fbc"/>
<rect x="119.30" y="450.30" width="21.20" height="2.56" fill="#969ed4"/>
<rect x="140.20" y="450.30" width="21.20" height="2.56" fill="#6978c0"/>
<rect x="35.70" y="452.56" width="21.20" height="2.56" fill="#eb3d40"/>
<rect x="56.60" y="452.56" width="21.20" height="2.56" fill="#fdeded"/>
<rect x="77.50" y="452.56" width="21.20" height="2.56" fill="#facfd0"/>
<rect x="98.40" y="452.56" width="21.20" height="2.56" fill="#596bba"/>
<rect x="119.30" y="452.56" width="21.20" height="2.56" fill="#8690cd"/>
<rect x="140.20" y="452.56" width="21.20" height="2.56" fill="#5567b8"/>
<rect x="35.70" y="454.83" width="21.20" height="2.56" fill="#ea3438"/>
<rect x="56.60" y="454.83" width="21.20" height="2.56" fill="#f27c7e"/>
<rect x="77.50" y="454.83" width="21.20" height="2.56" fill="#fdebeb"/>
<rect x="98.40" y="454.83" width="21.20" height="2.56" fill="#586ab9"/>
<rect x="119.30" y="454.83" width="21.20" height="2.56" fill="#5568b8"/>
<rect x="140.20" y="454.83" width="21.20" height="2.56" fill="#6877c0"/>
<rect x="35.70" y="457.09" width="21.20" height="2.56" fill="#ea3034"/>
<rect x="56.60" y="457.09" width="21.20" height="2.56" fill="#f28184"/>
<rect x="77.50" y="457.09" width="21.20" height="2.56" fill="#fffefe"/>
<rect x="98.40" y="457.09" width="21.20" height="2.56" fill="#5366b7"/>
<rect x="119.30" y="457.09" width="21.20" height="2.56" fill="#6272bd"/>
<rect x="140.20" y="457.09" width="21.20" height="2.56" fill="#5c6dbb"/>
<rect x="35.70" y="459.36" width="21.20" height="2.56" fill="#eb3d41"/>
<rect x="56.60" y="459.36" width="21.20" height="2.56" fill="#f27b7e"/>
<rect x="77.50" y="459.36" width="21.20" height="2.56" fill="#fdeff0"/>
<rect x="98.40" y="459.36" width="21.20" height="2.56" fill="#6574bf"/>
<rect x="119.30" y="459.36" width="21.20" height="2.56" fill="#5466b7"/>
<rect x="140.20" y="459.36" width="21.20" height="2.56" fill="#6675bf"/>
<rect x="35.70" y="461.62" width="21.20" height="2.56" fill="#eb3e41"/>
<rect x="56.60" y="461.62" width="21.20" height="2.56" fill="#f27d80"/>
<rect x="77.50" y="461.62" width="21.20" height="2.56" fill="#fef4f4"/>
<rect x="98.40" y="461.62" width="21.20" height="2.56" fill="#5a6bba"/>
<rect x="119.30" y="461.62" width="21.20" height="2.56" fill="#5f6fbc"/>
<rect x="140.20" y="461.62" width="21.20" height="2.56" fill="#c5c9e9"/>
<rect x="35.70" y="463.89" width="21.20" height="2.56" fill="#f17577"/>
<rect x="56.60" y="463.89" width="21.20" height="2.56" fill="#facccd"/>
<rect x="77.50" y="463.89" width="21.20" height="2.56" fill="#f8b6b7"/>
<rect x="98.40" y="463.89" width="21.20" height="2.56" fill="#f7f8fc"/>
<rect x="119.30" y="463.89" width="21.20" height="2.56" fill="#425cb0"/>
<rect x="140.20" y="463.89" width="21.20" height="2.56" fill="#aeb4df"/>
<rect x="35.70" y="466.15" width="21.20" height="2.56" fill="#ef6265"/>
<rect x="56.60" y="466.15" width="21.20" height="2.56" fill="#f06a6d"/>
<rect x="77.50" y="466.15" width="21.20" height="2.56" fill="#f49194"/>
<rect x="98.40" y="466.15" width="21.20" height="2.56" fill="#b2b8e1"/>
<rect x="119.30" y="466.15" width="21.20" height="2.56" fill="#4e62b5"/>
<rect x="140.20" y="466.15" width="21.20" height="2.56" fill="#3d5aae"/>
<rect x="35.70" y="468.42" width="21.20" height="2.56" fill="#ee565a"/>
<rect x="56.60" y="468.42" width="21.20" height="2.56" fill="#f06b6e"/>
<rect x="77.50" y="468.42" width="21.20" height="2.56" fill="#f49193"/>
<rect x="98.40" y="468.42" width="21.20" height="2.56" fill="#aab0dd"/>
<rect x="119.30" y="468.42" width="21.20" height="2.56" fill="#455db1"/>
<rect x="140.20" y="468.42" width="21.20" height="2.56" fill="#3957ac"/>
<rect x="35.70" y="470.68" width="21.20" height="2.56" fill="#ed5054"/>
<rect x="56.60" y="470.68" width="21.20" height="2.56" fill="#ef6164"/>
<rect x="77.50" y="470.68" width="21.20" height="2.56" fill="#f49597"/>
<rect x="98.40" y="470.68" width="21.20" height="2.56" fill="#b8bce3"/>
<rect x="119.30" y="470.68" width="21.20" height="2.56" fill="#7e89c9"/>
<rect x="140.20" y="470.68" width="21.20" height="2.56" fill="#2a50a5"/>
<rect x="35.70" y="472.94" width="21.20" height="2.56" fill="#ed4e52"/>
<rect x="56.60" y="472.94" width="21.20" height="2.56" fill="#ef6467"/>
<rect x="77.50" y="472.94" width="21.20" height="2.56" fill="#f38d8f"/>
<rect x="98.40" y="472.94" width="21.20" height="2.56" fill="#475eb2"/>
<rect x="119.30" y="472.94" width="21.20" height="2.56" fill="#717ec4"/>
<rect x="140.20" y="472.94" width="21.20" height="2.56" fill="#2a50a5"/>
<rect x="35.70" y="475.21" width="21.20" height="2.56" fill="#a1a8d9"/>
<rect x="56.60" y="475.21" width="21.20" height="2.56" fill="#e3e5f4"/>
<rect x="77.50" y="475.21" width="21.20" height="2.56" fill="#8892ce"/>
<rect x="98.40" y="475.21" width="21.20" height="2.56" fill="#475eb2"/>
<rect x="119.30" y="475.21" width="21.20" height="2.56" fill="#f0696c"/>
<rect x="140.20" y="475.21" width="21.20" height="2.56" fill="#ed5356"/>
<rect x="35.70" y="477.47" width="21.20" height="2.56" fill="#99a0d5"/>
<rect x="56.60" y="477.47" width="21.20" height="2.56" fill="#8992ce"/>
<rect x="77.50" y="477.47" width="21.20" height="2.56" fill="#808aca"/>
<rect x="98.40" y="477.47" width="21.20" height="2.56" fill="#9fa6d8"/>
<rect x="119.30" y="477.47" width="21.20" height="2.56" fill="#f17a7c"/>
<rect x="140.20" y="477.47" width="21.20" height="2.56" fill="#ed5053"/>
<rect x="35.70" y="479.74" width="21.20" height="2.56" fill="#949cd3"/>
<rect x="56.60" y="479.74" width="21.20" height="2.56" fill="#838dcb"/>
<rect x="77.50" y="479.74" width="21.20" height="2.56" fill="#818aca"/>
<rect x="98.40" y="479.74" width="21.20" height="2.56" fill="#b4bae2"/>
<rect x="119.30" y="479.74" width="21.20" height="2.56" fill="#ef6568"/>
<rect x="140.20" y="479.74" width="21.20" height="2.56" fill="#ed5255"/>
<rect x="35.70" y="482.00" width="21.20" height="2.56" fill="#959dd3"/>
<rect x="56.60" y="482.00" width="21.20" height="2.56" fill="#858fcc"/>
<rect x="77.50" y="482.00" width="21.20" height="2.56" fill="#8790cd"/>
<rect x="98.40" y="482.00" width="21.20" height="2.56" fill="#d3d6ee"/>
<rect x="119.30" y="482.00" width="21.20" height="2.56" fill="#e9282c"/>
<rect x="140.20" y="482.00" width="21.20" height="2.56" fill="#fad0d1"/>
<rect x="35.70" y="484.27" width="21.20" height="2.56" fill="#455eb1"/>
<rect x="56.60" y="484.27" width="21.20" height="2.56" fill="#fef3f3"/>
<rect x="77.50" y="484.27" width="21.20" height="2.56" fill="#9ca3d7"/>
<rect x="98.40" y="484.27" width="21.20" height="2.56" fill="#d6d9ef"/>
<rect x="119.30" y="484.27" width="21.20" height="2.56" fill="#e9282c"/>
<rect x="140.20" y="484.27" width="21.20" height="2.56" fill="#f9c3c4"/>
<rect x="35.70" y="486.53" width="21.20" height="2.56" fill="#465eb1"/>
<rect x="56.60" y="486.53" width="21.20" height="2.56" fill="#fbfbfd"/>
<rect x="77.50" y="486.53" width="21.20" height="2.56" fill="#7e89c9"/>
<rect x="98.40" y="486.53" width="21.20" height="2.56" fill="#7c87c8"/>
<rect x="119.30" y="486.53" width="21.20" height="2.56" fill="#e9282c"/>
<rect x="140.20" y="486.53" width="21.20" height="2.56" fill="#e3e5f4"/>
<rect x="35.70" y="488.80" width="21.20" height="2.56" fill="#848ecc"/>
<rect x="56.60" y="488.80" width="21.20" height="2.56" fill="#8d96d0"/>
<rect x="77.50" y="488.80" width="21.20" height="2.56" fill="#7f89c9"/>
<rect x="98.40" y="488.80" width="21.20" height="2.56" fill="#f38d8f"/>
<rect x="119.30" y="488.80" width="21.20" height="2.56" fill="#e9282c"/>
<rect x="140.20" y="488.80" width="21.20" height="2.56" fill="#e0e2f3"/>
<rect x="35.70" y="491.06" width="21.20" height="2.56" fill="#7f8aca"/>
<rect x="56.60" y="491.06" width="21.20" height="2.56" fill="#7f89ca"/>
<rect x="77.50" y="491.06" width="21.20" height="2.56" fill="#8791cd"/>
<rect x="98.40" y="491.06" width="21.20" height="2.56" fill="#f38d90"/>
<rect x="119.30" y="491.06" width="21.20" height="2.56" fill="#d7daf0"/>
<rect x="140.20" y="491.06" width="21.20" height="2.56" fill="#f38688"/>
<rect x="35.70" y="493.33" width="21.20" height="2.56" fill="#8790cd"/>
<rect x="56.60" y="493.33" width="21.20" height="2.56" fill="#7883c7"/>
<rect x="77.50" y="493.33" width="21.20" height="2.56" fill="#7985c7"/>
<rect x="98.40" y="493.33" width="21.20" height="2.56" fill="#ec4144"/>
<rect x="119.30" y="493.33" width="21.20" height="2.56" fill="#fef6f6"/>
<rect x="140.20" y="493.33" width="21.20" height="2.56" fill="#f17376"/>
<rect x="35.70" y="495.59" width="21.20" height="2.56" fill="#8e97d0"/>
<rect x="56.60" y="495.59" width="21.20" height="2.56" fill="#6c7ac1"/>
<rect x="77.50" y="495.59" width="21.20" height="2.56" fill="#7985c7"/>
<rect x="98.40" y="495.59" width="21.20" height="2.56" fill="#ec474a"/>
<rect x="119.30" y="495.59" width="21.20" height="2.56" fill="#ffffff"/>
<rect x="140.20" y="495.59" width="21.20" height="2.56" fill="#ef6669"/>
<rect x="35.70" y="497.86" width="21.20" height="2.56" fill="#3857ab"/>
<rect x="56.60" y="497.86" width="21.20" height="2.56" fill="#caceeb"/>
<rect x="77.50" y="497.86" width="21.20" height="2.56" fill="#7a85c7"/>
<rect x="98.40" y="497.86" width="21.20" height="2.56" fill="#ec4246"/>
<rect x="119.30" y="497.86" width="21.20" height="2.56" fill="#fffcfc"/>
<rect x="140.20" y="497.86" width="21.20" height="2.56" fill="#f06e71"/>
<rect x="35.70" y="500.12" width="21.20" height="2.56" fill="#3153a8"/>
<rect x="56.60" y="500.12" width="21.20" height="2.56" fill="#d1d4ed"/>
<rect x="77.50" y="500.12" width="21.20" height="2.56" fill="#3e5aae"/>
<rect x="98.40" y="500.12" width="21.20" height="2.56" fill="#ec4245"/>
<rect x="119.30" y="500.12" width="21.20" height="2.56" fill="#fef1f1"/>
<rect x="140.20" y="500.12" width="21.20" height="2.56" fill="#f49597"/>
<rect x="35.70" y="502.39" width="21.20" height="2.56" fill="#3455a9"/>
<rect x="56.60" y="502.39" width="21.20" height="2.56" fill="#ccd0ec"/>
<rect x="77.50" y="502.39" width="21.20" height="2.56" fill="#3455aa"/>
<rect x="98.40" y="502.39" width="21.20" height="2.56" fill="#ee565a"/>
<rect x="119.30" y="502.39" width="21.20" height="2.56" fill="#fffcfc"/>
<rect x="140.20" y="502.39" width="21.20" height="2.56" fill="#f6a2a4"/>
<rect x="35.70" y="504.65" width="21.20" height="2.56" fill="#fffdfd"/>
<rect x="56.60" y="504.65" width="21.20" height="2.56" fill="#989fd5"/>
<rect x="77.50" y="504.65" width="21.20" height="2.56" fill="#8f98d1"/>
<rect x="98.40" y="504.65" width="21.20" height="2.56" fill="#ec474b"/>
<rect x="119.30" y="504.65" width="21.20" height="2.56" fill="#838dcb"/>
<rect x="140.20" y="504.65" width="21.20" height="2.56" fill="#f59a9c"/>
<rect x="35.70" y="506.92" width="21.20" height="2.56" fill="#9ba3d6"/>
<rect x="56.60" y="506.92" width="21.20" height="2.56" fill="#7e89c9"/>
<rect x="77.50" y="506.92" width="21.20" height="2.56" fill="#969ed4"/>
<rect x="98.40" y="506.92" width="21.20" height="2.56" fill="#e9282c"/>
<rect x="119.30" y="506.92" width="21.20" height="2.56" fill="#7f89ca"/>
<rect x="140.20" y="506.92" width="21.20" height="2.56" fill="#fffefe"/>
<rect x="35.70" y="509.18" width="21.20" height="2.56" fill="#a1a7d9"/>
<rect x="56.60" y="509.18" width="21.20" height="2.56" fill="#808aca"/>
<rect x="77.50" y="509.18" width="21.20" height="2.56" fill="#959dd3"/>
<rect x="98.40" y="509.18" width="21.20" height="2.56" fill="#e9282c"/>
<rect x="119.30" y="509.18" width="21.20" height="2.56" fill="#7581c5"/>
<rect x="140.20" y="509.18" width="21.20" height="2.56" fill="#f8f8fc"/>
<rect x="35.70" y="511.45" width="21.20" height="2.56" fill="#a3a9da"/>
<rect x="56.60" y="511.45" width="21.20" height="2.56" fill="#a1a8d9"/>
<rect x="77.50" y="511.45" width="21.20" height="2.56" fill="#959dd3"/>
<rect x="98.40" y="511.45" width="21.20" height="2.56" fill="#e9282c"/>
<rect x="119.30" y="511.45" width="21.20" height="2.56" fill="#d4d7ef"/>
<rect x="140.20" y="511.45" width="21.20" height="2.56" fill="#dfe1f3"/>
<rect x="35.70" y="513.71" width="21.20" height="2.56" fill="#b8bce3"/>
<rect x="56.60" y="513.71" width="21.20" height="2.56" fill="#b0b5e0"/>
<rect x="77.50" y="513.71" width="21.20" height="2.56" fill="#969dd4"/>
<rect x="98.40" y="513.71" width="21.20" height="2.56" fill="#e9282c"/>
<rect x="119.30" y="513.71" width="21.20" height="2.56" fill="#d9dbf1"/>
<rect x="140.20" y="513.71" width="21.20" height="2.56" fill="#d6d9ef"/>
<rect x="35.70" y="515.98" width="21.20" height="2.56" fill="#adb3df"/>
<rect x="56.60" y="515.98" width="21.20" height="2.56" fill="#a2a9da"/>
<rect x="77.50" y="515.98" width="21.20" height="2.56" fill="#959dd3"/>
<rect x="98.40" y="515.98" width="21.20" height="2.56" fill="#e9282c"/>
<rect x="119.30" y="515.98" width="21.20" height="2.56" fill="#d7d9f0"/>
<rect x="140.20" y="515.98" width="21.20" height="2.56" fill="#d4d7ef"/>
<rect x="35.70" y="518.24" width="21.20" height="2.56" fill="#abb1dd"/>
<rect x="56.60" y="518.24" width="21.20" height="2.56" fill="#a3aada"/>
<rect x="77.50" y="518.24" width="21.20" height="2.56" fill="#6272bd"/>
<rect x="98.40" y="518.24" width="21.20" height="2.56" fill="#e9282c"/>
<rect x="119.30" y="518.24" width="21.20" height="2.56" fill="#facacb"/>
<rect x="140.20" y="518.24" width="21.20" height="2.56" fill="#fdeced"/>
<rect x="35.70" y="520.50" width="21.20" height="2.56" fill="#ffffff"/>
<rect x="56.60" y="520.50" width="21.20" height="2.56" fill="#2a50a5"/>
<rect x="77.50" y="520.50" width="21.20" height="2.56" fill="#5d6ebb"/>
<rect x="98.40" y="520.50" width="21.20" height="2.56" fill="#e9282c"/>
<rect x="119.30" y="520.50" width="21.20" height="2.56" fill="#f9c5c6"/>
<rect x="140.20" y="520.50" width="21.20" height="2.56" fill="#fdefef"/>
<rect x="35.70" y="522.77" width="21.20" height="2.56" fill="#fef3f3"/>
<rect x="56.60" y="522.77" width="21.20" height="2.56" fill="#3053a8"/>
<rect x="77.50" y="522.77" width="21.20" height="2.56" fill="#c6cae9"/>
<rect x="98.40" y="522.77" width="21.20" height="2.56" fill="#e9282c"/>
<rect x="119.30" y="522.77" width="21.20" height="2.56" fill="#f9c7c8"/>
<rect x="140.20" y="522.77" width="21.20" height="2.56" fill="#fbdbdc"/>
<rect x="35.70" y="525.03" width="21.20" height="2.56" fill="#8c95cf"/>
<rect x="56.60" y="525.03" width="21.20" height="2.56" fill="#2a50a5"/>
<rect x="77.50" y="525.03" width="21.20" height="2.56" fill="#cccfec"/>
<rect x="98.40" y="525.03" width="21.20" height="2.56" fill="#e9282c"/>
<rect x="119.30" y="525.03" width="21.20" height="2.56" fill="#fbd6d7"/>
<rect x="140.20" y="525.03" width="21.20" height="2.56" fill="#fce5e5"/>
<rect x="35.70" y="527.30" width="21.20" height="2.56" fill="#3b58ac"/>
<rect x="56.60" y="527.30" width="21.20" height="2.56" fill="#7581c5"/>
<rect x="77.50" y="527.30" width="21.20" height="2.56" fill="#8d96d0"/>
<rect x="98.40" y="527.30" width="21.20" height="2.56" fill="#ed5457"/>
<rect x="119.30" y="527.30" width="21.20" height="2.56" fill="#ef6669"/>
<rect x="140.20" y="527.30" width="21.20" height="2.56" fill="#d5d8ef"/>
<rect x="35.70" y="529.56" width="21.20" height="2.56" fill="#485fb2"/>
<rect x="56.60" y="529.56" width="21.20" height="2.56" fill="#7984c7"/>
<rect x="77.50" y="529.56" width="21.20" height="2.56" fill="#7984c7"/>
<rect x="98.40" y="529.56" width="21.20" height="2.56" fill="#eb4044"/>
<rect x="119.30" y="529.56" width="21.20" height="2.56" fill="#f06f72"/>
<rect x="140.20" y="529.56" width="21.20" height="2.56" fill="#c6cae9"/>
<rect x="35.70" y="531.83" width="21.20" height="2.56" fill="#3857ab"/>
<rect x="56.60" y="531.83" width="21.20" height="2.56" fill="#7480c5"/>
<rect x="77.50" y="531.83" width="21.20" height="2.56" fill="#7e88c9"/>
<rect x="98.40" y="531.83" width="21.20" height="2.56" fill="#ed5053"/>
<rect x="119.30" y="531.83" width="21.20" height="2.56" fill="#f1787a"/>
<rect x="140.20" y="531.83" width="21.20" height="2.56" fill="#d0d3ed"/>
<rect x="35.70" y="534.09" width="21.20" height="2.56" fill="#707dc3"/>
<rect x="56.60" y="534.09" width="21.20" height="2.56" fill="#7c87c8"/>
<rect x="77.50" y="534.09" width="21.20" height="2.56" fill="#7380c5"/>
<rect x="98.40" y="534.09" width="21.20" height="2.56" fill="#ec4447"/>
<rect x="119.30" y="534.09" width="21.20" height="2.56" fill="#ef6669"/>
<rect x="140.20" y="534.09" width="21.20" height="2.56" fill="#828bcb"/>
<rect x="35.70" y="536.36" width="21.20" height="2.56" fill="#7e89c9"/>
<rect x="56.60" y="536.36" width="21.20" height="2.56" fill="#a2a9d9"/>
<rect x="77.50" y="536.36" width="21.20" height="2.56" fill="#5164b6"/>
<rect x="98.40" y="536.36" width="21.20" height="2.56" fill="#ec4447"/>
<rect x="119.30" y="536.36" width="21.20" height="2.56" fill="#ec4245"/>
<rect x="140.20" y="536.36" width="21.20" height="2.56" fill="#8a93cf"/>
<rect x="35.70" y="538.62" width="21.20" height="2.56" fill="#9da4d7"/>
<rect x="56.60" y="538.62" width="21.20" height="2.56" fill="#9ea6d8"/>
<rect x="77.50" y="538.62" width="21.20" height="2.56" fill="#475eb2"/>
<rect x="98.40" y="538.62" width="21.20" height="2.56" fill="#eb4044"/>
<rect x="119.30" y="538.62" width="21.20" height="2.56" fill="#ec4448"/>
<rect x="140.20" y="538.62" width="21.20" height="2.56" fill="#ffffff"/>
<rect x="35.70" y="540.89" width="21.20" height="2.56" fill="#818bca"/>
<rect x="56.60" y="540.89" width="21.20" height="2.56" fill="#a6acdb"/>
<rect x="77.50" y="540.89" width="21.20" height="2.56" fill="#455eb1"/>
<rect x="98.40" y="540.89" width="21.20" height="2.56" fill="#f6acad"/>
<rect x="119.30" y="540.89" width="21.20" height="2.56" fill="#ec4548"/>
<rect x="140.20" y="540.89" width="21.20" height="2.56" fill="#fef9f9"/>
<rect x="35.70" y="543.15" width="21.20" height="2.56" fill="#8e96d0"/>
<rect x="56.60" y="543.15" width="21.20" height="2.56" fill="#929ad2"/>
<rect x="77.50" y="543.15" width="21.20" height="2.56" fill="#475eb2"/>
<rect x="98.40" y="543.15" width="21.20" height="2.56" fill="#f6abad"/>
<rect x="119.30" y="543.15" width="21.20" height="2.56" fill="#ea3438"/>
<rect x="140.20" y="543.15" width="21.20" height="2.56" fill="#fdebeb"/>
<rect x="35.70" y="545.42" width="21.20" height="2.56" fill="#d9dbf0"/>
<rect x="56.60" y="545.42" width="21.20" height="2.56" fill="#a8afdc"/>
<rect x="77.50" y="545.42" width="21.20" height="2.56" fill="#5265b7"/>
<rect x="98.40" y="545.42" width="21.20" height="2.56" fill="#f7b5b7"/>
<rect x="119.30" y="545.42" width="21.20" height="2.56" fill="#eb393c"/>
<rect x="140.20" y="545.42" width="21.20" height="2.56" fill="#facecf"/>
<rect x="35.70" y="547.68" width="21.20" height="2.56" fill="#dcdef2"/>
<rect x="56.60" y="547.68" width="21.20" height="2.56" fill="#405baf"/>
<rect x="77.50" y="547.68" width="21.20" height="2.56" fill="#586ab9"/>
<rect x="98.40" y="547.68" width="21.20" height="2.56" fill="#facbcc"/>
<rect x="119.30" y="547.68" width="21.20" height="2.56" fill="#ec4447"/>
<rect x="140.20" y="547.68" width="21.20" height="2.56" fill="#facecf"/>
<rect x="35.70" y="549.95" width="21.20" height="2.56" fill="#e2e3f4"/>
<rect x="56.60" y="549.95" width="21.20" height="2.56" fill="#3b58ac"/>
<rect x="77.50" y="549.95" width="21.20" height="2.56" fill="#5265b7"/>
<rect x="98.40" y="549.95" width="21.20" height="2.56" fill="#fad3d4"/>
<rect x="119.30" y="549.95" width="21.20" height="2.56" fill="#ec4447"/>
<rect x="140.20" y="549.95" width="21.20" height="2.56" fill="#f8bdbe"/>
<rect x="35.70" y="552.21" width="21.20" height="2.56" fill="#e3e5f4"/>
<rect x="56.60" y="552.21" width="21.20" height="2.56" fill="#3d59ad"/>
<rect x="77.50" y="552.21" width="21.20" height="2.56" fill="#5669b8"/>
<rect x="98.40" y="552.21" width="21.20" height="2.56" fill="#fbd4d5"/>
<rect x="119.30" y="552.21" width="21.20" height="2.56" fill="#f06d70"/>
<rect x="140.20" y="552.21" width="21.20" height="2.56" fill="#f9c6c7"/>
<rect x="35.70" y="554.48" width="21.20" height="2.56" fill="#cbceeb"/>
<rect x="56.60" y="554.48" width="21.20" height="2.56" fill="#3b59ad"/>
<rect x="77.50" y="554.48" width="21.20" height="2.56" fill="#4c61b4"/>
<rect x="98.40" y="554.48" width="21.20" height="2.56" fill="#f27c7f"/>
<rect x="119.30" y="554.48" width="21.20" height="2.56" fill="#f06f71"/>
<rect x="140.20" y="554.48" width="21.20" height="2.56" fill="#f59a9c"/>
<rect x="35.70" y="556.74" width="21.20" height="2.56" fill="#6776c0"/>
<rect x="56.60" y="556.74" width="21.20" height="2.56" fill="#6a78c1"/>
<rect x="77.50" y="556.74" width="21.20" height="2.56" fill="#d3d6ee"/>
<rect x="98.40" y="556.74" width="21.20" height="2.56" fill="#f49092"/>
<rect x="119.30" y="556.74" width="21.20" height="2.56" fill="#f17679"/>
<rect x="140.20" y="556.74" width="21.20" height="2.56" fill="#f59d9f"/>
<rect x="35.70" y="559.01" width="21.20" height="2.56" fill="#707dc3"/>
<rect x="56.60" y="559.01" width="21.20" height="2.56" fill="#5467b7"/>
<rect x="77.50" y="559.01" width="21.20" height="2.56" fill="#5769b9"/>
<rect x="98.40" y="559.01" width="21.20" height="2.56" fill="#f38d8f"/>
<rect x="119.30" y="559.01" width="21.20" height="2.56" fill="#f06d6f"/>
<rect x="140.20" y="559.01" width="21.20" height="2.56" fill="#f3898b"/>
<rect x="35.70" y="561.27" width="21.20" height="2.56" fill="#7a85c7"/>
<rect x="56.60" y="561.27" width="21.20" height="2.56" fill="#5c6dbb"/>
<rect x="77.50" y="561.27" width="21.20" height="2.56" fill="#5c6dbb"/>
<rect x="98.40" y="561.27" width="21.20" height="2.56" fill="#f38688"/>
<rect x="119.30" y="561.27" width="21.20" height="2.56" fill="#f17274"/>
<rect x="140.20" y="561.27" width="21.20" height="2.56" fill="#f49799"/>
<rect x="35.70" y="563.54" width="21.20" height="2.56" fill="#6978c1"/>
<rect x="56.60" y="563.54" width="21.20" height="2.56" fill="#586ab9"/>
<rect x="77.50" y="563.54" width="21.20" height="2.56" fill="#6977c0"/>
<rect x="98.40" y="563.54" width="21.20" height="2.56" fill="#f49092"/>
<rect x="119.30" y="563.54" width="21.20" height="2.56" fill="#f06e71"/>
<rect x="140.20" y="563.54" width="21.20" height="2.56" fill="#f48f91"/>
<defs><linearGradient id="hmcb" x1="0" y1="0" x2="0" y2="1"><stop offset="0" stop-color="#e9282c"/><stop offset="0.5" stop-color="#ffffff"/><stop offset="0.625" stop-color="#c0c4e7"/><stop offset="0.75" stop-color="#808aca"/><stop offset="0.875" stop-color="#4e62b5"/><stop offset="1" stop-color="#2a50a5"/></linearGradient></defs>
<rect x="164.00" y="327.80" width="6.60" height="110.50" fill="url(#hmcb)"/>
<text x="172.60" y="329.60" font-size="10.2" font-weight="bold" text-anchor="start" fill="#000">2</text>
<text x="172.60" y="357.40" font-size="10.2" font-weight="bold" text-anchor="start" fill="#000">1</text>
<text x="172.60" y="384.60" font-size="10.2" font-weight="bold" text-anchor="start" fill="#000">0</text>
<text x="172.60" y="412.60" font-size="10.2" font-weight="bold" text-anchor="start" fill="#000">-1</text>
<text x="172.60" y="440.60" font-size="10.2" font-weight="bold" text-anchor="start" fill="#000">-2</text>
<path d="M67.05 328.00 L67.05 320.10 L87.95 320.10 L87.95 328.00" fill="none" stroke="#555" stroke-width="1.0"/>
<path d="M46.15 328.00 L46.15 315.40 L77.50 315.40 L77.50 320.10" fill="none" stroke="#555" stroke-width="1.0"/>
<path d="M129.75 328.00 L129.75 320.10 L150.65 320.10 L150.65 328.00" fill="none" stroke="#555" stroke-width="1.0"/>
<path d="M108.85 328.00 L108.85 315.40 L140.20 315.40 L140.20 320.10" fill="none" stroke="#555" stroke-width="1.0"/>
<path d="M61.83 315.40 L61.83 306.60 L124.52 306.60 L124.52 315.40" fill="none" stroke="#555" stroke-width="1.0"/>
<path d="M35.40 442.37H34.74V444.64H35.40M35.40 508.05H34.74V510.31H35.40M35.40 514.84H34.73V517.11H35.40M35.40 365.37H34.70V367.63H35.40M35.40 512.58H34.14V515.98H34.73M34.70 366.50H34.08V369.90H35.40M35.40 467.28H34.62V469.55H35.40M35.40 560.14H34.59V562.40H35.40M34.59 561.27H33.94V564.67H35.40M35.40 494.46H34.58V496.72H35.40M35.40 351.78H34.57V354.04H35.40M35.40 548.81H34.57V551.08H35.40M34.74 443.50H34.00V446.90H35.40M35.40 455.96H34.48V458.22H35.40M34.48 457.09H33.82V460.49H35.40M35.40 478.61H34.47V480.87H35.40M35.40 542.02H34.45V544.28H35.40M35.40 451.43H34.44V453.69H35.40M35.40 449.16H33.73V452.56H34.44M35.40 388.02H34.44V390.28H35.40M35.40 394.81H34.43V397.08H35.40M35.40 392.55H33.74V395.94H34.43M35.40 530.70H34.42V532.96H35.40M35.40 528.43H33.71V531.83H34.42M35.40 501.25H34.41V503.52H35.40M35.40 408.40H34.35V410.66H35.40M35.40 399.34H34.32V401.60H35.40M34.32 400.47H33.50V403.87H35.40M35.40 363.10H33.17V368.20H34.08M34.57 549.95H33.59V553.34H35.40M35.40 338.19H34.21V340.46H35.40M35.40 356.31H34.17V358.57H35.40M35.40 376.69H34.12V378.96H35.40M35.40 431.05H34.06V433.31H35.40M35.40 381.22H34.05V383.49H35.40M35.40 360.84H32.11V365.65H33.17M35.40 440.11H32.80V445.20H34.00M35.40 415.19H33.92V417.46H35.40M35.40 428.78H32.85V432.18H34.06M35.40 419.72H33.86V421.99H35.40M35.40 535.23H33.86V537.49H35.40M34.62 468.42H33.24V471.81H35.40M35.40 331.40H33.74V333.66H35.40M33.92 416.33H32.51V420.86H33.86M33.74 394.24H32.16V402.17H33.50M34.21 339.32H32.79V342.72H35.40M35.40 344.99H33.66V347.25H35.40M35.40 412.93H31.16V418.59H32.51M34.17 357.44H30.77V363.25H32.11M34.57 352.91H29.53V360.34H30.77M34.45 543.15H32.89V546.55H35.40M35.40 372.16H33.50V374.43H35.40M35.40 435.58H33.44V437.84H35.40M35.40 492.20H32.85V495.59H34.58M33.82 458.79H32.20V462.75H35.40M33.74 332.53H32.13V335.93H35.40M35.40 498.99H32.69V502.39H34.41M31.16 415.76H29.72V424.25H35.40M33.66 346.12H32.03V349.52H35.40M34.74 509.18H32.44V514.28H34.14M35.40 521.64H33.27V523.90H35.40M34.12 377.82H32.24V382.35H34.05M33.59 551.65H31.83V555.61H35.40M33.71 530.13H31.91V536.36H33.86M32.13 334.23H30.46V341.02H32.79M35.40 557.87H32.02V562.97H33.94M32.03 347.82H27.93V356.63H29.53M33.24 470.11H31.38V474.08H35.40M32.85 430.48H31.00V436.71H33.44M35.40 426.52H29.41V433.59H31.00M35.40 539.76H31.03V544.85H32.89M35.40 485.40H33.00V487.67H35.40M33.27 522.77H31.31V526.17H35.40M29.41 430.06H27.65V442.65H32.80M29.72 420.01H25.93V436.35H27.65M34.44 389.15H30.18V398.21H32.16M35.40 385.75H28.36V393.68H30.18M35.40 476.34H32.20V479.74H34.47M31.83 553.63H29.85V560.42H32.02M31.03 542.30H28.07V557.02H29.85M33.73 450.86H30.16V460.77H32.20M25.93 428.18H24.38V455.82H30.16M32.44 511.73H30.33V519.37H35.40M32.24 380.09H26.48V389.71H28.36M32.85 493.89H30.49V500.69H32.69M35.40 483.14H30.72V486.53H33.00M35.40 505.78H28.14V515.55H30.33M24.38 442.00H22.32V465.02H35.40M22.32 453.51H20.72V472.10H31.38M28.14 510.67H25.85V524.47H31.31M30.49 497.29H23.65V517.57H25.85M35.40 329.13H27.94V337.63H30.46M31.91 533.24H25.67V549.66H28.07M32.20 478.04H28.12V484.83H30.72M23.65 507.43H21.21V541.45H25.67M35.40 489.93H19.25V524.44H21.21M34.35 409.53H18.07V462.80H20.72M35.40 406.13H15.72V436.17H18.07M26.48 384.90H13.62V421.15H15.72M27.94 333.38H24.77V352.22H27.93M28.12 481.44H16.10V507.19H19.25M33.50 373.30H10.42V403.03H13.62M24.77 342.80H8.71V388.16H10.42M8.71 365.48H3.40V494.31H16.10" fill="none" stroke="#444" stroke-width="0.7"/>
<text x="12.30" y="581.30" font-size="12.6" font-weight="bold" text-anchor="start" fill="#1a1a1a" textLength="89.30" lengthAdjust="spacingAndGlyphs">OSA-GEL@GC</text>
<text x="113.30" y="581.30" font-size="12.6" font-weight="bold" text-anchor="start" fill="#1a1a1a" textLength="44.90" lengthAdjust="spacingAndGlyphs">Control</text>
<text x="194.60" y="317.40" font-size="21.3" font-weight="bold" text-anchor="start" fill="#000">E</text>
<rect x="233.30" y="315.03" width="11.15" height="114.17" fill="#ef716d"/>
<text x="238.87" y="313.93" font-size="9.6" font-weight="bold" text-anchor="middle" fill="#000" transform="translate(238.87 313.93) scale(1 1.17) translate(-238.87 -313.93)">3</text>
<rect x="245.78" y="315.03" width="11.15" height="114.17" fill="#ef716d"/>
<text x="251.35" y="313.93" font-size="9.6" font-weight="bold" text-anchor="middle" fill="#000" transform="translate(251.35 313.93) scale(1 1.17) translate(-251.35 -313.93)">3</text>
<rect x="258.26" y="348.03" width="11.15" height="81.17" fill="#ef716d"/>
<text x="263.83" y="346.93" font-size="9.6" font-weight="bold" text-anchor="middle" fill="#000" transform="translate(263.83 346.93) scale(1 1.17) translate(-263.83 -346.93)">2</text>
<rect x="270.74" y="357.31" width="11.15" height="71.89" fill="#ef716d"/>
<text x="276.31" y="356.21" font-size="9.6" font-weight="bold" text-anchor="middle" fill="#000" transform="translate(276.31 356.21) scale(1 1.17) translate(-276.31 -356.21)">4</text>
<rect x="283.22" y="357.31" width="11.15" height="71.89" fill="#ef716d"/>
<text x="288.79" y="356.21" font-size="9.6" font-weight="bold" text-anchor="middle" fill="#000" transform="translate(288.79 356.21) scale(1 1.17) translate(-288.79 -356.21)">5</text>
<rect x="295.70" y="357.31" width="11.15" height="71.89" fill="#ef716d"/>
<text x="301.27" y="356.21" font-size="9.6" font-weight="bold" text-anchor="middle" fill="#000" transform="translate(301.27 356.21) scale(1 1.17) translate(-301.27 -356.21)">2</text>
<rect x="308.18" y="357.31" width="11.15" height="71.89" fill="#ef716d"/>
<text x="313.75" y="356.21" font-size="9.6" font-weight="bold" text-anchor="middle" fill="#000" transform="translate(313.75 356.21) scale(1 1.17) translate(-313.75 -356.21)">3</text>
<rect x="320.66" y="357.31" width="11.15" height="71.89" fill="#ef716d"/>
<text x="326.23" y="356.21" font-size="9.6" font-weight="bold" text-anchor="middle" fill="#000" transform="translate(326.23 356.21) scale(1 1.17) translate(-326.23 -356.21)">5</text>
<rect x="333.14" y="357.31" width="11.15" height="71.89" fill="#ef716d"/>
<text x="338.71" y="356.21" font-size="9.6" font-weight="bold" text-anchor="middle" fill="#000" transform="translate(338.71 356.21) scale(1 1.17) translate(-338.71 -356.21)">3</text>
<rect x="345.62" y="357.31" width="11.15" height="71.89" fill="#ef716d"/>
<text x="351.19" y="356.21" font-size="9.6" font-weight="bold" text-anchor="middle" fill="#000" transform="translate(351.19 356.21) scale(1 1.17) translate(-351.19 -356.21)">3</text>
<line x1="231.30" y1="307.90" x2="231.30" y2="435.00" stroke="#2b2b2b" stroke-width="1.2"/>
<line x1="230.70" y1="434.90" x2="358.00" y2="434.90" stroke="#2b2b2b" stroke-width="1.2"/>
<line x1="228.80" y1="429.20" x2="231.30" y2="429.20" stroke="#2b2b2b" stroke-width="1.0"/>
<text x="228.50" y="431.60" font-size="9.7" font-weight="bold" text-anchor="end" fill="#000" transform="translate(228.50 431.60) scale(1 1.17) translate(-228.50 -431.60)">0.0</text>
<line x1="228.80" y1="390.55" x2="231.30" y2="390.55" stroke="#2b2b2b" stroke-width="1.0"/>
<text x="228.50" y="392.95" font-size="9.7" font-weight="bold" text-anchor="end" fill="#000" transform="translate(228.50 392.95) scale(1 1.17) translate(-228.50 -392.95)">0.5</text>
<line x1="228.80" y1="351.90" x2="231.30" y2="351.90" stroke="#2b2b2b" stroke-width="1.0"/>
<text x="228.50" y="354.30" font-size="9.7" font-weight="bold" text-anchor="end" fill="#000" transform="translate(228.50 354.30) scale(1 1.17) translate(-228.50 -354.30)">1.0</text>
<line x1="228.80" y1="313.25" x2="231.30" y2="313.25" stroke="#2b2b2b" stroke-width="1.0"/>
<text x="228.50" y="315.65" font-size="9.7" font-weight="bold" text-anchor="end" fill="#000" transform="translate(228.50 315.65) scale(1 1.17) translate(-228.50 -315.65)">1.5</text>
<line x1="238.87" y1="434.90" x2="238.87" y2="437.40" stroke="#2b2b2b" stroke-width="1.0"/>
<line x1="251.35" y1="434.90" x2="251.35" y2="437.40" stroke="#2b2b2b" stroke-width="1.0"/>
<line x1="263.83" y1="434.90" x2="263.83" y2="437.40" stroke="#2b2b2b" stroke-width="1.0"/>
<line x1="276.31" y1="434.90" x2="276.31" y2="437.40" stroke="#2b2b2b" stroke-width="1.0"/>
<line x1="288.79" y1="434.90" x2="288.79" y2="437.40" stroke="#2b2b2b" stroke-width="1.0"/>
<line x1="301.27" y1="434.90" x2="301.27" y2="437.40" stroke="#2b2b2b" stroke-width="1.0"/>
<line x1="313.75" y1="434.90" x2="313.75" y2="437.40" stroke="#2b2b2b" stroke-width="1.0"/>
<line x1="326.23" y1="434.90" x2="326.23" y2="437.40" stroke="#2b2b2b" stroke-width="1.0"/>
<line x1="338.71" y1="434.90" x2="338.71" y2="437.40" stroke="#2b2b2b" stroke-width="1.0"/>
<line x1="351.19" y1="434.90" x2="351.19" y2="437.40" stroke="#2b2b2b" stroke-width="1.0"/>
<text x="209.60" y="369.90" font-size="11.0" font-weight="bold" text-anchor="middle" fill="#000" transform="rotate(-90 209.60 369.90)" textLength="66.40" lengthAdjust="spacingAndGlyphs">-log10 (padj)</text>
<text x="293.70" y="313.80" font-size="10.3" font-weight="bold" text-anchor="start" fill="#000" textLength="44.60" lengthAdjust="spacingAndGlyphs">Category</text>
<rect x="293.70" y="317.20" width="10.20" height="8.40" fill="#ef716d"/>
<text x="306.30" y="324.60" font-size="10.3" font-weight="bold" text-anchor="start" fill="#000">BP</text>
<text x="0" y="0" font-size="9.45" text-anchor="end" fill="#e8232a" stroke="#e8232a" stroke-width="0.42" transform="translate(243.47 442.30) scale(1 1.1) rotate(-60)">blood vessel remodeling</text>
<text x="0" y="0" font-size="9.45" text-anchor="end" fill="#262626" stroke="#262626" stroke-width="0.42" transform="translate(255.95 442.30) scale(1 1.1) rotate(-60)">regulation of leukocyte degranulation</text>
<text x="0" y="0" font-size="9.45" text-anchor="end" fill="#262626" stroke="#262626" stroke-width="0.42" transform="translate(268.43 442.30) scale(1 1.1) rotate(-60)">creatine metabolic process</text>
<text x="0" y="0" font-size="9.45" text-anchor="end" fill="#262626" stroke="#262626" stroke-width="0.42" transform="translate(280.91 442.30) scale(1 1.1) rotate(-60)">antigen receptor-mediated signaling pathway</text>
<text x="0" y="0" font-size="9.45" text-anchor="end" fill="#262626" stroke="#262626" stroke-width="0.42" transform="translate(293.39 442.30) scale(1 1.1) rotate(-60)">regulation of leukocyte activation</text>
<text x="0" y="0" font-size="9.45" text-anchor="end" fill="#262626" stroke="#262626" stroke-width="0.42" transform="translate(305.87 442.30) scale(1 1.1) rotate(-60)">2-oxoglutarate metabolic process</text>
<text x="0" y="0" font-size="9.45" text-anchor="end" fill="#262626" stroke="#262626" stroke-width="0.42" transform="translate(318.35 442.30) scale(1 1.1) rotate(-60)">determination of left/right symmetry</text>
<text x="0" y="0" font-size="9.45" text-anchor="end" fill="#262626" stroke="#262626" stroke-width="0.42" transform="translate(330.83 442.30) scale(1 1.1) rotate(-60)">regulation of cell activation</text>
<text x="0" y="0" font-size="9.45" text-anchor="end" fill="#262626" stroke="#262626" stroke-width="0.42" transform="translate(343.31 442.30) scale(1 1.1) rotate(-60)">specification of symmetry</text>
<text x="0" y="0" font-size="9.45" text-anchor="end" fill="#262626" stroke="#262626" stroke-width="0.42" transform="translate(355.79 442.30) scale(1 1.1) rotate(-60)">determination of bilateral symmetry</text>
<text x="0.60" y="639.30" font-size="22.3" font-weight="bold" text-anchor="start" fill="#000">F</text>
<line x1="252.53" y1="629.00" x2="252.53" y2="778.10" stroke="#ececec" stroke-width="0.8"/>
<line x1="302.80" y1="629.00" x2="302.80" y2="778.10" stroke="#ececec" stroke-width="0.8"/>
<line x1="353.07" y1="629.00" x2="353.07" y2="778.10" stroke="#ececec" stroke-width="0.8"/>
<line x1="227.40" y1="629.00" x2="227.40" y2="778.10" stroke="#dcdcdc" stroke-width="1.0"/>
<line x1="277.67" y1="629.00" x2="277.67" y2="778.10" stroke="#dcdcdc" stroke-width="1.0"/>
<line x1="327.94" y1="629.00" x2="327.94" y2="778.10" stroke="#dcdcdc" stroke-width="1.0"/>
<line x1="378.20" y1="629.00" x2="378.20" y2="778.10" stroke="#dcdcdc" stroke-width="1.0"/>
<line x1="206.60" y1="636.40" x2="394.40" y2="636.40" stroke="#dcdcdc" stroke-width="1.0"/>
<line x1="206.60" y1="651.13" x2="394.40" y2="651.13" stroke="#dcdcdc" stroke-width="1.0"/>
<line x1="206.60" y1="665.86" x2="394.40" y2="665.86" stroke="#dcdcdc" stroke-width="1.0"/>
<line x1="206.60" y1="680.59" x2="394.40" y2="680.59" stroke="#dcdcdc" stroke-width="1.0"/>
<line x1="206.60" y1="695.32" x2="394.40" y2="695.32" stroke="#dcdcdc" stroke-width="1.0"/>
<line x1="206.60" y1="710.05" x2="394.40" y2="710.05" stroke="#dcdcdc" stroke-width="1.0"/>
<line x1="206.60" y1="724.78" x2="394.40" y2="724.78" stroke="#dcdcdc" stroke-width="1.0"/>
<line x1="206.60" y1="739.51" x2="394.40" y2="739.51" stroke="#dcdcdc" stroke-width="1.0"/>
<line x1="206.60" y1="754.24" x2="394.40" y2="754.24" stroke="#dcdcdc" stroke-width="1.0"/>
<line x1="206.60" y1="768.97" x2="394.40" y2="768.97" stroke="#dcdcdc" stroke-width="1.0"/>
<rect x="206.6" y="629.0" width="187.80" height="149.10" fill="none" stroke="#333" stroke-width="1.1"/>
<circle cx="302.80" cy="636.40" r="5.40" fill="#e0862e"/>
<circle cx="302.80" cy="651.13" r="5.40" fill="#e0862e"/>
<circle cx="386.62" cy="665.86" r="6.80" fill="#e0862e"/>
<circle cx="302.80" cy="680.59" r="5.40" fill="#e0862e"/>
<circle cx="260.95" cy="695.32" r="4.40" fill="#e2812e"/>
<circle cx="386.62" cy="710.05" r="6.80" fill="#e0862e"/>
<circle cx="344.65" cy="724.78" r="6.30" fill="#e0862e"/>
<circle cx="260.95" cy="739.51" r="4.40" fill="#e2812e"/>
<circle cx="302.80" cy="754.24" r="5.40" fill="#ee5628"/>
<circle cx="302.80" cy="768.97" r="5.40" fill="#ee5628"/>
<line x1="203.20" y1="636.40" x2="206.60" y2="636.40" stroke="#333" stroke-width="1.0"/>
<text x="201.20" y="639.50" font-size="9.3" font-weight="bold" text-anchor="end" fill="#2a2a2a" textLength="158.00" lengthAdjust="spacingAndGlyphs">determination of bilateral symmetry</text>
<line x1="203.20" y1="651.13" x2="206.60" y2="651.13" stroke="#333" stroke-width="1.0"/>
<text x="201.20" y="654.23" font-size="9.3" font-weight="bold" text-anchor="end" fill="#2a2a2a" textLength="114.50" lengthAdjust="spacingAndGlyphs">specification of symmetry</text>
<line x1="203.20" y1="665.86" x2="206.60" y2="665.86" stroke="#333" stroke-width="1.0"/>
<text x="201.20" y="668.96" font-size="9.3" font-weight="bold" text-anchor="end" fill="#2a2a2a" textLength="120.30" lengthAdjust="spacingAndGlyphs">regulation of cell activation</text>
<line x1="203.20" y1="680.59" x2="206.60" y2="680.59" stroke="#333" stroke-width="1.0"/>
<text x="201.20" y="683.69" font-size="9.3" font-weight="bold" text-anchor="end" fill="#2a2a2a" textLength="159.40" lengthAdjust="spacingAndGlyphs">determination of left/right symmetry</text>
<line x1="203.20" y1="695.32" x2="206.60" y2="695.32" stroke="#333" stroke-width="1.0"/>
<text x="201.20" y="698.42" font-size="9.3" font-weight="bold" text-anchor="end" fill="#2a2a2a" textLength="148.60" lengthAdjust="spacingAndGlyphs">2-oxoglutarate metabolic process</text>
<line x1="203.20" y1="710.05" x2="206.60" y2="710.05" stroke="#333" stroke-width="1.0"/>
<text x="201.20" y="713.15" font-size="9.3" font-weight="bold" text-anchor="end" fill="#2a2a2a" textLength="147.80" lengthAdjust="spacingAndGlyphs">regulation of leukocyte activation</text>
<line x1="203.20" y1="724.78" x2="206.60" y2="724.78" stroke="#333" stroke-width="1.0"/>
<text x="201.20" y="727.88" font-size="9.3" font-weight="bold" text-anchor="end" fill="#2a2a2a" textLength="200.30" lengthAdjust="spacingAndGlyphs">antigen receptor-mediated signaling pathway</text>
<line x1="203.20" y1="739.51" x2="206.60" y2="739.51" stroke="#333" stroke-width="1.0"/>
<text x="201.20" y="742.61" font-size="9.3" font-weight="bold" text-anchor="end" fill="#2a2a2a" textLength="120.30" lengthAdjust="spacingAndGlyphs">creatine metabolic process</text>
<line x1="203.20" y1="754.24" x2="206.60" y2="754.24" stroke="#333" stroke-width="1.0"/>
<text x="201.20" y="757.34" font-size="9.3" font-weight="bold" text-anchor="end" fill="#2a2a2a" textLength="166.20" lengthAdjust="spacingAndGlyphs">regulation of leukocyte degranulation</text>
<line x1="203.20" y1="768.97" x2="206.60" y2="768.97" stroke="#333" stroke-width="1.0"/>
<text x="201.20" y="772.07" font-size="9.3" font-weight="bold" text-anchor="end" fill="#e8232a" textLength="109.20" lengthAdjust="spacingAndGlyphs">blood vessel remodeling</text>
<line x1="227.40" y1="778.10" x2="227.40" y2="781.30" stroke="#333" stroke-width="1.0"/>
<text x="230.00" y="790.00" font-size="9.9" font-weight="bold" text-anchor="middle" fill="#000" transform="translate(230.00 790.00) scale(1 1.12) translate(-230.00 -790.00)">0.04</text>
<line x1="277.67" y1="778.10" x2="277.67" y2="781.30" stroke="#333" stroke-width="1.0"/>
<text x="280.27" y="790.00" font-size="9.9" font-weight="bold" text-anchor="middle" fill="#000" transform="translate(280.27 790.00) scale(1 1.12) translate(-280.27 -790.00)">0.08</text>
<line x1="327.94" y1="778.10" x2="327.94" y2="781.30" stroke="#333" stroke-width="1.0"/>
<text x="330.54" y="790.00" font-size="9.9" font-weight="bold" text-anchor="middle" fill="#000" transform="translate(330.54 790.00) scale(1 1.12) translate(-330.54 -790.00)">0.12</text>
<line x1="378.20" y1="778.10" x2="378.20" y2="781.30" stroke="#333" stroke-width="1.0"/>
<text x="380.80" y="790.00" font-size="9.9" font-weight="bold" text-anchor="middle" fill="#000" transform="translate(380.80 790.00) scale(1 1.12) translate(-380.80 -790.00)">0.16</text>
<text x="302.80" y="801.30" font-size="12.8" font-weight="bold" text-anchor="middle" fill="#000" textLength="67.40" lengthAdjust="spacingAndGlyphs">Gene Ratio</text>
<text x="403.00" y="640.50" font-size="10.2" font-weight="bold" text-anchor="start" fill="#000" textLength="29.50" lengthAdjust="spacingAndGlyphs">Count</text>
<circle cx="413.20" cy="655.90" r="1.40" fill="#000"/>
<text x="427.30" y="659.50" font-size="9.8" font-weight="bold" text-anchor="start" fill="#000" transform="translate(427.30 659.50) scale(1 1.1) translate(-427.30 -659.50)">1</text>
<circle cx="413.20" cy="674.10" r="4.80" fill="#000"/>
<text x="427.30" y="677.70" font-size="9.8" font-weight="bold" text-anchor="start" fill="#000" transform="translate(427.30 677.70) scale(1 1.1) translate(-427.30 -677.70)">2</text>
<circle cx="413.20" cy="691.60" r="5.90" fill="#000"/>
<text x="427.30" y="695.20" font-size="9.8" font-weight="bold" text-anchor="start" fill="#000" transform="translate(427.30 695.20) scale(1 1.1) translate(-427.30 -695.20)">3</text>
<circle cx="413.20" cy="709.10" r="6.80" fill="#000"/>
<text x="427.30" y="712.70" font-size="9.8" font-weight="bold" text-anchor="start" fill="#000" transform="translate(427.30 712.70) scale(1 1.1) translate(-427.30 -712.70)">4</text>
<circle cx="413.20" cy="726.80" r="7.70" fill="#000"/>
<text x="427.30" y="730.40" font-size="9.8" font-weight="bold" text-anchor="start" fill="#000" transform="translate(427.30 730.40) scale(1 1.1) translate(-427.30 -730.40)">5</text>
<text x="404.10" y="746.10" font-size="10.0" font-weight="bold" text-anchor="start" fill="#000">padj</text>
<defs><linearGradient id="padjg" x1="0" y1="1" x2="0" y2="0"><stop offset="0" stop-color="#e8302a"/><stop offset="0.15" stop-color="#e8862a"/><stop offset="0.3" stop-color="#a8c23a"/><stop offset="0.42" stop-color="#5fbf55"/><stop offset="0.6" stop-color="#45b8c8"/><stop offset="0.8" stop-color="#4a8ad0"/><stop offset="1" stop-color="#5a4aa8"/></linearGradient></defs>
<rect x="410.90" y="749.10" width="10.20" height="50.40" fill="url(#padjg)"/>
<text x="424.10" y="754.60" font-size="9.6" font-weight="bold" text-anchor="start" fill="#000" transform="translate(424.10 754.60) scale(1 1.15) translate(-424.10 -754.60)">1.0</text>
<text x="424.10" y="778.00" font-size="9.6" font-weight="bold" text-anchor="start" fill="#000" transform="translate(424.10 778.00) scale(1 1.15) translate(-424.10 -778.00)">0.5</text>
<text x="424.10" y="801.20" font-size="9.6" font-weight="bold" text-anchor="start" fill="#000" transform="translate(424.10 801.20) scale(1 1.15) translate(-424.10 -801.20)">0.0</text>
<text x="371.10" y="317.20" font-size="21.3" font-weight="bold" text-anchor="start" fill="#000">G</text>
<text x="432.70" y="319.50" font-size="12.8" font-weight="bold" text-anchor="start" fill="#000" textLength="228.90" lengthAdjust="spacingAndGlyphs">Glomerulus vasculature development</text>
<line x1="414.80" y1="418.36" x2="681.40" y2="418.36" stroke="#d0d0d0" stroke-width="0.8" stroke-dasharray="1.2 1.6"/>
<line x1="414.80" y1="400.12" x2="681.40" y2="400.12" stroke="#d0d0d0" stroke-width="0.8" stroke-dasharray="1.2 1.6"/>
<line x1="414.80" y1="381.88" x2="681.40" y2="381.88" stroke="#d0d0d0" stroke-width="0.8" stroke-dasharray="1.2 1.6"/>
<line x1="414.80" y1="363.64" x2="681.40" y2="363.64" stroke="#d0d0d0" stroke-width="0.8" stroke-dasharray="1.2 1.6"/>
<line x1="414.80" y1="345.40" x2="681.40" y2="345.40" stroke="#d0d0d0" stroke-width="0.8" stroke-dasharray="1.2 1.6"/>
<line x1="470.50" y1="329.20" x2="470.50" y2="437.20" stroke="#d0d0d0" stroke-width="0.8" stroke-dasharray="1.2 1.6"/>
<line x1="526.00" y1="329.20" x2="526.00" y2="437.20" stroke="#d0d0d0" stroke-width="0.8" stroke-dasharray="1.2 1.6"/>
<line x1="581.50" y1="329.20" x2="581.50" y2="437.20" stroke="#d0d0d0" stroke-width="0.8" stroke-dasharray="1.2 1.6"/>
<line x1="637.00" y1="329.20" x2="637.00" y2="437.20" stroke="#d0d0d0" stroke-width="0.8" stroke-dasharray="1.2 1.6"/>
<line x1="414.80" y1="436.60" x2="681.40" y2="436.60" stroke="#b0b0b0" stroke-width="1.0"/>
<rect x="414.8" y="329.0" width="266.6" height="108.3" fill="none" stroke="#b8b8b8" stroke-width="1"/>
<text x="413.00" y="440.30" font-size="10.3" font-weight="bold" text-anchor="end" fill="#000">0.0</text>
<text x="413.00" y="422.06" font-size="10.3" font-weight="bold" text-anchor="end" fill="#000">0.1</text>
<text x="413.00" y="403.82" font-size="10.3" font-weight="bold" text-anchor="end" fill="#000">0.2</text>
<text x="413.00" y="385.58" font-size="10.3" font-weight="bold" text-anchor="end" fill="#000">0.3</text>
<text x="413.00" y="367.34" font-size="10.3" font-weight="bold" text-anchor="end" fill="#000">0.4</text>
<text x="413.00" y="349.10" font-size="10.3" font-weight="bold" text-anchor="end" fill="#000">0.5</text>
<line x1="415.40" y1="436.60" x2="415.40" y2="345.40" stroke="#a3d895" stroke-width="1.6"/>
<path d="M415.00 346.10 L430.30 357.19 L430.30 334.21 L453.20 350.80 L453.20 336.03 L472.50 350.01 L472.50 340.53 L496.20 357.70 L496.20 352.05 L504.30 357.92 L504.30 353.90 L511.70 359.27 L511.70 355.62 L527.60 367.14 L527.60 365.32 L538.70 373.36 L538.70 371.54 L558.70 386.03 L558.70 384.57 L563.00 387.69 L563.00 386.23 L567.40 389.42 L567.40 387.96 L570.50 390.20 L570.50 388.75 L595.00 406.50 L595.00 399.93 L640.10 432.62 L640.10 417.66 L668.40 437.30" fill="none" stroke="#6abd46" stroke-width="2.0" stroke-linejoin="miter"/>
<rect x="414.8" y="442.3" width="266.6" height="47.0" fill="none" stroke="#b8b8b8" stroke-width="1"/>
<line x1="430.30" y1="443.80" x2="430.30" y2="480.10" stroke="#555" stroke-width="1.1"/>
<line x1="453.20" y1="443.80" x2="453.20" y2="480.10" stroke="#555" stroke-width="1.1"/>
<line x1="472.50" y1="443.80" x2="472.50" y2="480.10" stroke="#555" stroke-width="1.1"/>
<line x1="496.20" y1="443.80" x2="496.20" y2="480.10" stroke="#555" stroke-width="1.1"/>
<line x1="504.30" y1="443.80" x2="504.30" y2="480.10" stroke="#555" stroke-width="1.1"/>
<line x1="511.70" y1="443.80" x2="511.70" y2="480.10" stroke="#555" stroke-width="1.1"/>
<line x1="527.60" y1="443.80" x2="527.60" y2="480.10" stroke="#555" stroke-width="1.1"/>
<line x1="538.70" y1="443.80" x2="538.70" y2="480.10" stroke="#555" stroke-width="1.1"/>
<line x1="558.70" y1="443.80" x2="558.70" y2="480.10" stroke="#555" stroke-width="1.1"/>
<line x1="563.00" y1="443.80" x2="563.00" y2="480.10" stroke="#555" stroke-width="1.1"/>
<line x1="567.40" y1="443.80" x2="567.40" y2="480.10" stroke="#555" stroke-width="1.1"/>
<line x1="570.50" y1="443.80" x2="570.50" y2="480.10" stroke="#555" stroke-width="1.1"/>
<line x1="595.00" y1="443.80" x2="595.00" y2="480.10" stroke="#555" stroke-width="1.1"/>
<line x1="640.10" y1="443.80" x2="640.10" y2="480.10" stroke="#555" stroke-width="1.1"/>
<rect x="414.80" y="480.10" width="5.30" height="9.20" fill="#e8434f"/>
<rect x="419.90" y="480.10" width="39.60" height="9.20" fill="#ec5a62"/>
<rect x="459.30" y="480.10" width="19.90" height="9.20" fill="#ee6c7c"/>
<rect x="479.00" y="480.10" width="28.80" height="9.20" fill="#f38a8e"/>
<rect x="507.60" y="480.10" width="36.40" height="9.20" fill="#eeb0d6"/>
<rect x="543.80" y="480.10" width="31.30" height="9.20" fill="#c6c6e9"/>
<rect x="574.90" y="480.10" width="27.10" height="9.20" fill="#b4b1dc"/>
<rect x="601.80" y="480.10" width="20.50" height="9.20" fill="#7580c8"/>
<rect x="622.10" y="480.10" width="37.70" height="9.20" fill="#5558b0"/>
<rect x="659.60" y="480.10" width="8.70" height="9.20" fill="#3a44a4"/>
<line x1="414.80" y1="492.52" x2="681.40" y2="492.52" stroke="#d0d0d0" stroke-width="0.8" stroke-dasharray="1.2 1.6"/>
<line x1="414.80" y1="509.96" x2="681.40" y2="509.96" stroke="#d0d0d0" stroke-width="0.8" stroke-dasharray="1.2 1.6"/>
<line x1="414.80" y1="544.84" x2="681.40" y2="544.84" stroke="#d0d0d0" stroke-width="0.8" stroke-dasharray="1.2 1.6"/>
<line x1="414.80" y1="562.28" x2="681.40" y2="562.28" stroke="#d0d0d0" stroke-width="0.8" stroke-dasharray="1.2 1.6"/>
<line x1="470.50" y1="489.50" x2="470.50" y2="565.00" stroke="#d0d0d0" stroke-width="0.8" stroke-dasharray="1.2 1.6"/>
<line x1="526.00" y1="489.50" x2="526.00" y2="565.00" stroke="#d0d0d0" stroke-width="0.8" stroke-dasharray="1.2 1.6"/>
<line x1="581.50" y1="489.50" x2="581.50" y2="565.00" stroke="#d0d0d0" stroke-width="0.8" stroke-dasharray="1.2 1.6"/>
<line x1="637.00" y1="489.50" x2="637.00" y2="565.00" stroke="#d0d0d0" stroke-width="0.8" stroke-dasharray="1.2 1.6"/>
<path d="M414.8 527.40 L414.80 507.34 L415.50 511.70 L416.60 516.06 L418.80 518.24 L423.10 519.81 L431.90 521.38 L442.80 522.69 L453.80 523.39 L469.10 524.17 L486.60 524.87 L502.00 525.83 L515.10 526.62 L530.00 527.05 L543.60 527.40 L560.00 527.75 L581.00 528.27 L600.00 529.14 L620.00 530.28 L640.00 531.76 L650.00 532.63 L656.00 533.33 L661.00 534.38 L664.00 536.99 L666.00 542.22 L667.40 550.07 L668.30 561.41 L668.40 527.40 Z" fill="#b5b5b5" stroke="none" stroke-width="1"/>
<line x1="543.60" y1="489.50" x2="543.60" y2="565.00" stroke="#aaa" stroke-width="0.8" stroke-dasharray="2 1.5"/>
<rect x="414.8" y="489.3" width="266.6" height="75.9" fill="none" stroke="#b8b8b8" stroke-width="1"/>
<rect x="517.6" y="524.6" width="52.3" height="5.6" fill="#fff"/>
<text x="518.20" y="529.40" font-size="5.85" text-anchor="start" fill="#333" textLength="51.70" lengthAdjust="spacingAndGlyphs">Zero cross at 11632</text>
<text x="409.60" y="496.22" font-size="10.3" font-weight="bold" text-anchor="end" fill="#000">4</text>
<text x="409.60" y="513.66" font-size="10.3" font-weight="bold" text-anchor="end" fill="#000">2</text>
<text x="409.60" y="531.10" font-size="10.3" font-weight="bold" text-anchor="end" fill="#000">0</text>
<text x="409.60" y="548.54" font-size="10.3" font-weight="bold" text-anchor="end" fill="#000">-2</text>
<text x="409.60" y="565.98" font-size="10.3" font-weight="bold" text-anchor="end" fill="#000">-4</text>
<text x="415.00" y="578.90" font-size="10.3" font-weight="bold" text-anchor="middle" fill="#000">0</text>
<text x="471.55" y="578.90" font-size="10.3" font-weight="bold" text-anchor="middle" fill="#000">5.000</text>
<text x="527.10" y="578.90" font-size="10.3" font-weight="bold" text-anchor="middle" fill="#000">10.000</text>
<text x="582.65" y="578.90" font-size="10.3" font-weight="bold" text-anchor="middle" fill="#000">15.000</text>
<text x="638.20" y="578.90" font-size="10.3" font-weight="bold" text-anchor="middle" fill="#000">20.000</text>
<text x="393.60" y="384.50" font-size="10.35" font-weight="bold" text-anchor="middle" fill="#000" transform="rotate(-90 393.60 384.50)" textLength="110.00" lengthAdjust="spacingAndGlyphs">Enrichment score (ES)</text>
<text x="382.30" y="526.40" font-size="10.4" font-weight="bold" text-anchor="middle" fill="#000" transform="rotate(-90 382.30 526.40)" textLength="89.30" lengthAdjust="spacingAndGlyphs">Ranked list metric</text>
<text x="393.40" y="526.40" font-size="10.4" font-weight="bold" text-anchor="middle" fill="#000" transform="rotate(-90 393.40 526.40)" textLength="72.50" lengthAdjust="spacingAndGlyphs">(Signal2Noise)</text>
<text x="444.60" y="639.30" font-size="22.3" font-weight="bold" text-anchor="start" fill="#000">H</text>
<rect x="467.20" y="638.90" width="27.62" height="27.82" fill="#ec6469" stroke="#b8b8b8" stroke-width="0.7"/>
<rect x="494.82" y="638.90" width="27.62" height="27.82" fill="#f8c4c8" stroke="#b8b8b8" stroke-width="0.7"/>
<rect x="522.43" y="638.90" width="27.62" height="27.82" fill="#fdf0f0" stroke="#b8b8b8" stroke-width="0.7"/>
<rect x="550.05" y="638.90" width="27.62" height="27.82" fill="#f49ca0" stroke="#b8b8b8" stroke-width="0.7"/>
<rect x="577.67" y="638.90" width="27.62" height="27.82" fill="#5466b4" stroke="#b8b8b8" stroke-width="0.7"/>
<rect x="605.28" y="638.90" width="27.62" height="27.82" fill="#5466b4" stroke="#b8b8b8" stroke-width="0.7"/>
<rect x="467.20" y="666.72" width="27.62" height="27.82" fill="#ee6b70" stroke="#b8b8b8" stroke-width="0.7"/>
<rect x="494.82" y="666.72" width="27.62" height="27.82" fill="#cbd0ec" stroke="#b8b8b8" stroke-width="0.7"/>
<rect x="522.43" y="666.72" width="27.62" height="27.82" fill="#ee666b" stroke="#b8b8b8" stroke-width="0.7"/>
<rect x="550.05" y="666.72" width="27.62" height="27.82" fill="#c8cae8" stroke="#b8b8b8" stroke-width="0.7"/>
<rect x="577.67" y="666.72" width="27.62" height="27.82" fill="#3c58ac" stroke="#b8b8b8" stroke-width="0.7"/>
<rect x="605.28" y="666.72" width="27.62" height="27.82" fill="#dcdcee" stroke="#b8b8b8" stroke-width="0.7"/>
<rect x="467.20" y="694.54" width="27.62" height="27.82" fill="#ea5055" stroke="#b8b8b8" stroke-width="0.7"/>
<rect x="494.82" y="694.54" width="27.62" height="27.82" fill="#f49a9e" stroke="#b8b8b8" stroke-width="0.7"/>
<rect x="522.43" y="694.54" width="27.62" height="27.82" fill="#f6b8bc" stroke="#b8b8b8" stroke-width="0.7"/>
<rect x="550.05" y="694.54" width="27.62" height="27.82" fill="#5063b3" stroke="#b8b8b8" stroke-width="0.7"/>
<rect x="577.67" y="694.54" width="27.62" height="27.82" fill="#8890c8" stroke="#b8b8b8" stroke-width="0.7"/>
<rect x="605.28" y="694.54" width="27.62" height="27.82" fill="#a8aad8" stroke="#b8b8b8" stroke-width="0.7"/>
<rect x="467.20" y="722.36" width="27.62" height="27.82" fill="#f6b0b4" stroke="#b8b8b8" stroke-width="0.7"/>
<rect x="494.82" y="722.36" width="27.62" height="27.82" fill="#ee686d" stroke="#b8b8b8" stroke-width="0.7"/>
<rect x="522.43" y="722.36" width="27.62" height="27.82" fill="#ef7075" stroke="#b8b8b8" stroke-width="0.7"/>
<rect x="550.05" y="722.36" width="27.62" height="27.82" fill="#7c86c4" stroke="#b8b8b8" stroke-width="0.7"/>
<rect x="577.67" y="722.36" width="27.62" height="27.82" fill="#7c86c4" stroke="#b8b8b8" stroke-width="0.7"/>
<rect x="605.28" y="722.36" width="27.62" height="27.82" fill="#7c86c4" stroke="#b8b8b8" stroke-width="0.7"/>
<rect x="467.20" y="750.18" width="27.62" height="27.82" fill="#f07a7e" stroke="#b8b8b8" stroke-width="0.7"/>
<rect x="494.82" y="750.18" width="27.62" height="27.82" fill="#f3969a" stroke="#b8b8b8" stroke-width="0.7"/>
<rect x="522.43" y="750.18" width="27.62" height="27.82" fill="#ef7074" stroke="#b8b8b8" stroke-width="0.7"/>
<rect x="550.05" y="750.18" width="27.62" height="27.82" fill="#7c86c4" stroke="#b8b8b8" stroke-width="0.7"/>
<rect x="577.67" y="750.18" width="27.62" height="27.82" fill="#7c86c4" stroke="#b8b8b8" stroke-width="0.7"/>
<rect x="605.28" y="750.18" width="27.62" height="27.82" fill="#7c86c4" stroke="#b8b8b8" stroke-width="0.7"/>
<rect x="467.20" y="636.60" width="82.85" height="2.30" fill="#e8302a"/>
<rect x="550.05" y="636.60" width="82.85" height="2.30" fill="#2a55a8"/>
<path d="M508.62 636.60 L508.62 634.90 L536.24 634.90 L536.24 636.60" fill="none" stroke="#9a9a9a" stroke-width="0.8"/>
<path d="M481.01 636.60 L481.01 633.00 L522.43 633.00 L522.43 634.90" fill="none" stroke="#9a9a9a" stroke-width="0.8"/>
<path d="M591.48 636.60 L591.48 634.90 L619.09 634.90 L619.09 636.60" fill="none" stroke="#9a9a9a" stroke-width="0.8"/>
<path d="M563.86 636.60 L563.86 633.30 L605.28 633.30 L605.28 634.90" fill="none" stroke="#9a9a9a" stroke-width="0.8"/>
<path d="M501.72 633.00 L501.72 629.50 L584.57 629.50 L584.57 633.30" fill="none" stroke="#9a9a9a" stroke-width="0.8"/>
<path d="M467.20 736.27 L464.50 736.27 L464.50 764.09 L467.20 764.09" fill="none" stroke="#9a9a9a" stroke-width="0.8"/>
<path d="M467.20 708.45 L462.00 708.45 L462.00 750.18 L464.50 750.18" fill="none" stroke="#9a9a9a" stroke-width="0.8"/>
<path d="M467.20 680.63 L459.70 680.63 L459.70 729.32 L462.00 729.32" fill="none" stroke="#9a9a9a" stroke-width="0.8"/>
<path d="M467.20 652.81 L458.10 652.81 L458.10 704.97 L459.70 704.97" fill="none" stroke="#9a9a9a" stroke-width="0.8"/>
<text x="638.90" y="660.01" font-size="9.7" text-anchor="start" fill="#1a1a1a" transform="rotate(-46 638.90 660.01)" stroke="#1a1a1a" stroke-width="0.25">NOTCH3</text>
<text x="638.90" y="687.83" font-size="9.7" text-anchor="start" fill="#1a1a1a" transform="rotate(-46 638.90 687.83)" stroke="#1a1a1a" stroke-width="0.25">MIR221</text>
<text x="638.90" y="715.65" font-size="9.7" text-anchor="start" fill="#1a1a1a" transform="rotate(-46 638.90 715.65)" stroke="#1a1a1a" stroke-width="0.25">ACVR2B</text>
<text x="638.90" y="743.47" font-size="9.7" text-anchor="start" fill="#1a1a1a" transform="rotate(-46 638.90 743.47)" stroke="#1a1a1a" stroke-width="0.25">CD177</text>
<text x="638.90" y="771.29" font-size="9.7" text-anchor="start" fill="#1a1a1a" transform="rotate(-46 638.90 771.29)" stroke="#1a1a1a" stroke-width="0.25">PDGFRB</text>
<defs><linearGradient id="hcb" x1="0" y1="0" x2="0" y2="1"><stop offset="0" stop-color="#e9282c"/><stop offset="0.5" stop-color="#ffffff"/><stop offset="1" stop-color="#2b52a5"/></linearGradient></defs>
<rect x="669.50" y="665.60" width="4.30" height="62.90" fill="url(#hcb)"/>
<text x="677.80" y="672.00" font-size="9.8" font-weight="bold" text-anchor="start" fill="#000" transform="translate(677.80 672.00) scale(1 1.1) translate(-677.80 -672.00)">2</text>
<text x="677.80" y="685.60" font-size="9.8" font-weight="bold" text-anchor="start" fill="#000" transform="translate(677.80 685.60) scale(1 1.1) translate(-677.80 -685.60)">1</text>
<text x="677.80" y="699.60" font-size="9.8" font-weight="bold" text-anchor="start" fill="#000" transform="translate(677.80 699.60) scale(1 1.1) translate(-677.80 -699.60)">0</text>
<text x="677.80" y="713.80" font-size="9.8" font-weight="bold" text-anchor="start" fill="#000" transform="translate(677.80 713.80) scale(1 1.1) translate(-677.80 -713.80)">-1</text>
<text x="677.80" y="728.00" font-size="9.8" font-weight="bold" text-anchor="start" fill="#000" transform="translate(677.80 728.00) scale(1 1.1) translate(-677.80 -728.00)">-2</text>
<text x="464.30" y="794.20" font-size="12.6" font-weight="bold" text-anchor="start" fill="#1a1a1a" textLength="89.40" lengthAdjust="spacingAndGlyphs">OSA-GEL@GC</text>
<text x="571.60" y="794.20" font-size="12.6" font-weight="bold" text-anchor="start" fill="#1a1a1a" textLength="45.40" lengthAdjust="spacingAndGlyphs">Control</text>
</svg></body></html>
